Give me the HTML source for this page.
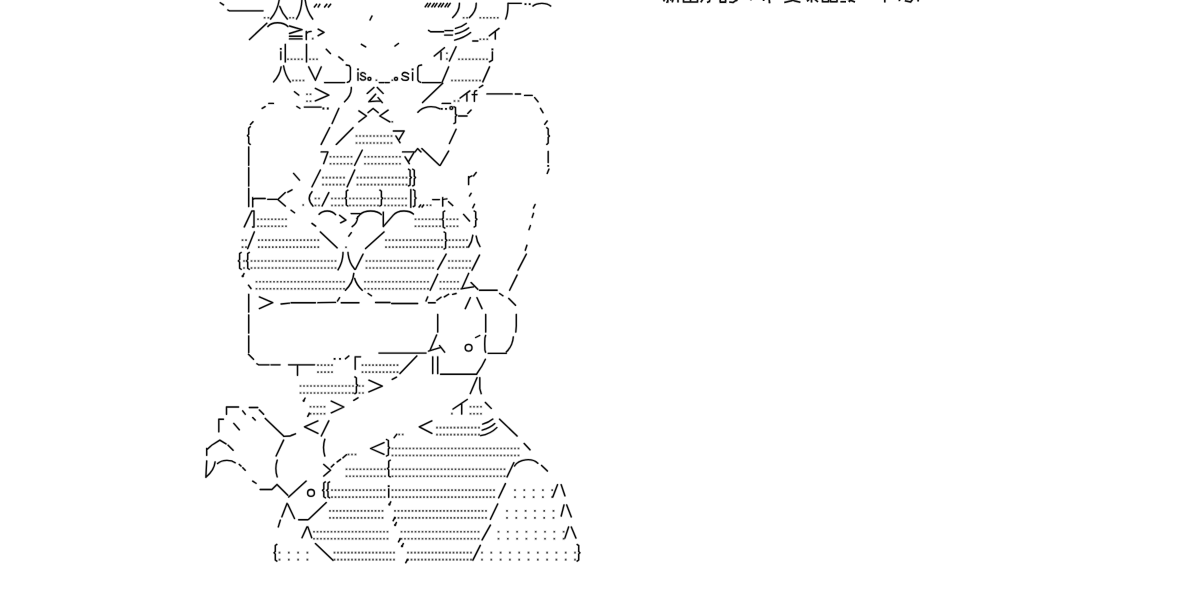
<!DOCTYPE html>
<html><head><meta charset="utf-8"><title>AA</title>
<style>
html,body{margin:0;padding:0;background:#fff;font-family:"Liberation Sans",sans-serif;}
body{width:1202px;height:598px;overflow:hidden;}
svg{display:block;}
</style></head><body>
<svg width="1202" height="598" viewBox="0 0 1202 598">
<g fill="none" stroke-linecap="round" stroke-linejoin="round">
<path d="M220.3 2.7L223.5 4.9 M227.8 10.0L229.5 10.8L263.0 10.8 M279.2 0.0 Q277.5 11.0 270.6 19.0 M279.8 6.5 Q282.0 13.0 287.3 19.0 M301.9 0.0 Q301.5 11.0 296.5 19.0 M305.2 0.0 Q306.5 11.0 312.7 19.0 M316.5 4.3L314.4 7.0 M319.8 4.3L318.2 7.0 M326.8 4.3L324.6 7.0 M330.6 4.3L328.4 7.0 M372.0 16.0L370.0 20.0 M427.6 3.4L425.2 6.8 M430.4 3.4L428.0 6.8 M434.2 3.4L431.8 6.8 M437.0 3.4L434.6 6.8 M440.8 3.4L438.4 6.8 M443.6 3.4L441.2 6.8 M447.4 3.4L445.0 6.8 M450.2 3.4L447.8 6.8 M459.4 3.3 Q459.8 11.0 452.7 17.6 M476.2 3.3 Q476.6 11.0 469.5 17.6 M508.0 3.3 Q508.2 13.0 505.7 19.0 M508.0 3.3L521.3 3.3 M533.0 6.0 C537.0 2.4 547.0 2.4 550.6 6.0 M266.8 23.3L249.5 39.5 M267.9 26.5 C272.0 21.5 283.0 21.5 287.9 26.5 M289.5 26.0L302.0 29.7L289.5 33.5 M289.5 36.2L302.0 36.2 M289.5 38.9L302.0 38.9 M306.3 31.4L306.3 39.5 M306.3 33.8 Q307.5 31.5 311.1 31.4 M318.2 29.2L324.0 32.4L318.2 35.7 M428.6 30.4L430.6 31.7L443.6 31.7 M445.0 30.6L452.8 30.6 M444.7 35.1L452.4 35.1 M455.5 28.4 Q462.0 26.8 466.2 23.4 M455.5 33.9 Q463.5 32.0 468.6 28.0 M454.7 40.1 Q464.5 37.8 470.6 32.6 M472.8 41.0L477.8 41.0 M499.0 28.4L489.4 35.8 M495.3 31.6L495.3 39.0 M280.8 51.8L280.8 59.5 M285.3 44.3L285.3 61.9 M306.5 44.3L306.5 61.9 M326.3 49.3L330.4 53.5 M338.8 56.9L343.0 60.2 M361.4 44.3L365.6 46.8 M398.4 43.5L395.0 46.0 M444.4 47.7L434.3 56.0 M441.0 51.8L441.0 59.5 M449.4 61.0L456.1 46.8 M492.4 52.0L492.4 60.2L489.5 61.9 M281.1 66.9 Q280.0 75.0 273.6 81.9 M283.6 66.0 Q285.0 75.0 290.3 81.9 M308.7 66.9L315.4 80.3L321.2 66.9 M324.6 82.6L344.6 82.6 M346.3 65.0L349.3 65.6L350.4 67.5L350.4 79.5L349.3 81.5L347.3 82.3 M358.0 72.7L358.0 80.3 M365.4 74.0 C364.0 71.9 360.6 72.1 360.8 74.6 M360.8 74.6 C361.0 76.8 365.8 76.0 365.6 78.4 M365.6 78.4 C365.2 80.8 361.4 80.6 360.4 78.6 M379.3 82.6L383.9 82.6 M385.2 82.6L389.3 82.6 M408.5 74.0 C406.5 71.8 402.0 72.0 402.3 74.8 M402.3 74.8 C402.5 77.0 408.8 76.0 408.5 78.6 M408.5 78.6 C408.0 81.0 403.0 80.8 401.8 78.8 M412.6 72.7L412.6 80.3 M421.5 65.0L418.8 65.6L417.8 67.5L417.8 79.8L418.8 81.5L420.7 82.3 M422.4 82.6L440.5 82.6 M441.9 82.8L448.6 66.9 M482.8 81.9L489.5 66.9 M294.5 91.7L298.7 95.1 M315.4 88.4L328.8 95.1L315.4 100.9 M351.3 87.5 Q351.8 95.0 344.6 101.7 M373.9 87.5L367.2 93.4 M377.3 87.5L383.1 93.4 M375.6 94.2L368.9 101.7L380.6 100.9 M378.1 97.6L382.3 102.6 M442.7 83.3L422.6 102.6 M482.7 85.4L479.4 87.5 M469.8 90.9L460.2 98.0 M466.9 93.8L466.9 101.0 M476.6 90.6L475.0 91.0L474.4 92.4L474.4 101.3 M472.2 94.6L477.0 94.6 M487.0 93.9L512.1 93.9 M515.4 94.0L520.5 94.0 M524.6 95.4L532.2 95.4 M534.7 97.6L538.0 101.7 M262.2 108.4L265.1 106.7 M268.8 103.4L273.4 103.4 M296.9 106.5L299.8 108.3 M304.4 107.1L321.1 107.1 M332.1 123.5L338.8 108.4 M358.9 110.9L366.4 116.0L358.9 121.8 M368.1 112.6L373.1 108.4L378.1 112.6 M388.1 110.1L379.8 116.0L389.8 121.8 M417.9 112.2 C423.0 106.5 432.0 105.0 440.1 108.8 M442.2 103.4L450.5 103.4 M454.0 106.8L455.5 107.5L455.5 114.0L456.8 115.2L455.5 116.4L455.5 122.6L454.0 123.5 M458.6 116.0L467.0 116.0 M471.1 110.1L467.8 113.4 M540.5 108.4L543.0 112.6 M547.2 121.0L544.7 124.3 M253.0 121.8L250.5 124.5 M250.2 126.8L248.7 128.3L248.7 134.2L247.5 135.6L248.7 137.0L248.7 143.0L250.2 144.4 M321.2 144.4L329.6 127.7 M336.3 144.4L353.0 127.7 M393.4 131.0L404.2 131.0L399.2 139.4 M395.9 136.0L400.0 142.7 M449.4 143.5L456.1 129.3 M546.8 127.7L548.2 129.0L548.2 134.6L549.4 136.0L548.2 137.4L548.2 143.0L546.8 144.4 M248.7 147.0L248.7 165.3 M321.2 151.9L327.9 151.9L323.7 163.6 M354.7 165.3L362.2 150.2 M402.6 151.9L414.3 151.9L408.4 161.9 M405.1 156.9L409.3 163.6 M415.1 151.9L417.6 148.6L421.0 151.9 M421.8 148.6L439.4 165.3 M440.2 165.3L448.6 151.1 M548.2 151.5L548.2 162.5 M548.9 169.2L547.2 173.4 M248.7 167.7L248.7 186.0 M293.6 173.4L299.5 180.1 M312.0 186.8L320.4 170.0 M347.2 186.8L354.7 170.0 M408.6 169.2L410.1 170.2L410.1 176.2L411.3 177.5L410.1 178.8L410.1 185.0L408.6 185.9 M412.8 169.2L414.3 170.2L414.3 176.2L415.5 177.5L414.3 178.8L414.3 185.0L412.8 185.9 M468.6 176.7L468.6 184.6 M468.6 178.6 Q469.5 176.5 472.0 175.9 M476.2 172.5L473.6 175.9 M248.7 188.5L248.7 206.5 M252.7 197.6L252.7 206.8 M252.7 199.8L254.5 198.5L265.2 198.5 M267.7 199.3L276.9 199.3 M285.3 192.6L277.8 199.6L285.3 206.0 M292.0 189.8L287.8 192.1 M312.0 191.8 Q306.0 198.8 312.9 206.0 M322.1 206.0L328.8 192.6 M347.8 190.1L346.3 191.2L346.3 197.0L345.1 198.3L346.3 199.6L346.3 205.0L347.8 206.0 M379.9 190.1L381.4 191.2L381.4 197.0L382.6 198.3L381.4 199.6L381.4 205.0L379.9 206.0 M410.8 189.6L410.8 207.2 M413.4 189.8L414.9 190.8L414.9 196.8L416.1 198.1L414.9 199.4L414.9 205.6L413.4 206.6 M419.1 207.0L420.6 205.0 M422.1 207.0L423.6 205.0 M432.7 199.6L439.4 199.6 M442.7 197.6L442.7 206.0 M442.7 200.0 Q443.5 198.8 446.9 198.8 M448.6 201.8L452.7 205.5 M471.1 193.4L469.5 196.0 M474.5 204.3L472.8 207.7 M535.1 204.5L533.5 208.0 M244.3 226.9L251.8 211.0 M252.6 211.0L254.0 211.0L254.0 227.0L252.6 227.0 M291.1 210.2L294.5 212.7 M312.0 223.4L315.6 226.1 M319.1 214.3 C323.0 209.8 331.5 209.8 335.6 214.6 M339.6 215.3L345.9 220.1L340.6 222.8 M351.2 213.6L360.7 213.6L356.9 218.4 M357.7 216.8 C357.5 221.0 355.5 224.5 352.2 226.6 M360.4 214.3 C364.5 209.8 377.0 209.8 381.3 214.6 M383.3 212.1L383.3 226.6L393.3 215.1 M393.3 215.1 C398.0 209.8 409.0 209.8 413.4 214.1 M444.7 211.0L443.2 212.0L443.2 218.0L442.0 219.3L443.2 220.6L443.2 227.0L444.7 228.0 M463.6 214.4L469.5 221.0 M474.2 211.0L475.7 212.0L475.7 218.0L476.9 219.3L475.7 220.6L475.7 226.0L474.2 227.0 M533.5 213.4L532.2 217.4 M530.4 225.6L529.0 229.6 M247.7 248.6L254.3 231.9 M320.4 231.9L337.1 247.8 M351.3 232.7L348.8 236.1 M365.6 248.6L384.0 231.9 M444.1 232.0L445.6 233.0L445.6 239.0L446.8 240.3L445.6 241.6L445.6 248.0L444.1 249.0 M472.8 235.3 Q472.0 242.0 468.6 247.0 M476.2 236.1 Q477.0 242.0 480.0 246.5 M526.9 245.3L525.3 250.2 M241.1 252.5L239.6 253.6L239.6 259.6L238.4 260.9L239.6 262.2L239.6 268.3L241.1 269.3 M249.2 252.5L247.7 253.6L247.7 259.6L246.5 260.9L247.7 262.2L247.7 268.3L249.2 269.3 M343.0 252.5 Q343.0 262.0 338.0 269.8 M348.0 252.5 Q348.5 262.0 354.7 269.3 M355.5 269.3L363.0 254.2 M437.7 269.3L446.1 254.2 M472.0 270.1L479.5 255.1 M518.0 270.1L526.3 254.2 M248.5 285.2L251.0 288.5 M353.8 273.4 Q353.0 283.0 345.5 290.2 M354.7 278.5 Q356.5 285.0 362.2 290.2 M430.2 290.2L437.7 274.3 M468.6 273.4L461.9 288.5 M461.1 288.8L473.6 286.8 M471.1 282.6L477.8 289.3 M479.5 290.2L497.1 290.2 M509.6 290.2L517.1 275.1 M248.7 294.3L248.7 312.0 M259.4 296.9L272.7 302.7L259.4 308.6 M281.1 304.0L289.5 303.2 M291.1 302.7L315.4 302.7 M317.9 302.7L335.5 302.4 M339.6 297.7L337.5 301.0 M341.3 302.7L358.9 302.7 M368.1 293.5L371.4 295.7 M375.6 302.5L390.0 302.5 M391.7 303.5L417.6 303.5 M427.7 296.9L426.0 301.0 M428.5 302.7L435.2 302.7 M436.9 300.2L441.0 297.2 M444.4 296.9L448.6 294.3 M452.7 294.3L456.1 293.5 M470.3 297.7L465.3 308.6 M477.0 297.7L482.0 308.6 M499.6 293.5L502.9 295.7 M508.8 298.5L515.5 305.2 M248.7 315.0L248.7 333.0 M437.7 314.5L437.7 332.0 M485.7 314.5L485.7 332.0 M516.3 314.5L516.3 326.0L515.8 332.0 M248.7 336.0L248.7 352.5 M379.0 353.1L426.0 353.1 M436.6 335.0L430.0 350.6 M428.5 351.1L440.1 347.6 M439.6 345.6L444.6 352.1 M479.7 335.5L475.7 337.5 M485.6 335.5L484.9 338.0L484.7 344.0L484.9 350.0L485.6 352.2 M488.2 353.3L506.3 353.3 M513.3 337.0 C512.8 343.0 510.5 348.0 506.3 352.1 M248.5 354.3L253.5 359.3 M256.9 363.8L258.5 364.8L269.0 364.8 M271.0 364.8L280.0 364.8 M288.6 364.8L314.5 364.8 M297.5 364.8L297.5 375.2 M348.8 356.0L345.5 358.8 M355.2 369.3L355.2 356.8L360.5 356.8 M416.8 356.0L400.0 373.5 M432.7 356.8L432.7 373.5 M437.7 356.8L437.7 373.5 M440.6 374.2L476.7 374.2 M477.0 373.5 Q482.5 366.0 485.4 359.3 M354.9 376.9L356.4 378.0L356.4 384.0L357.6 385.3L356.4 386.6L356.4 392.6L354.9 393.6 M368.9 380.2L382.3 386.1L368.9 391.9 M396.5 377.2L392.3 379.4 M477.0 377.7L470.3 393.6 M479.8 377.7L479.8 388.6L481.2 393.6 M331.3 401.1L343.8 407.0L331.3 412.8 M358.0 397.8L353.8 400.3 M226.5 414.2L226.5 407.0L238.5 407.0 M242.7 410.9L245.2 414.2 M249.4 407.5L257.7 407.5 M259.4 410.0L263.6 414.2 M467.2 399.5L453.1 409.0 M461.7 403.5L461.7 414.1 M485.4 402.5L491.2 408.4 M218.8 431.8L218.8 419.2L223.4 419.2 M233.8 423.4L239.3 429.8 M252.7 417.6L255.2 420.1 M265.3 418.4L283.6 436.0 M283.6 436.3L290.3 436.0 M291.2 435.5L295.4 433.8 M317.9 420.9L304.5 426.8L317.9 433.4 M321.3 436.0L328.8 420.9 M431.8 420.9L419.3 426.8L431.8 433.4 M482.7 424.1 Q488.8 422.6 492.8 419.1 M482.2 430.1 Q490.0 428.2 494.8 423.6 M480.7 435.6 Q490.3 434.2 496.8 427.6 M499.6 419.2L517.1 436.0 M396.7 434.3L394.2 437.6 M206.7 448.5L206.7 455.2 M206.7 449.8L210.9 446.0 M211.7 445.2L219.8 440.1L226.0 443.8 M228.1 445.2L233.1 450.2 M276.1 456.0L283.6 440.1 M324.8 439.3 C323.0 445.0 323.0 450.0 324.8 456.0 M346.4 454.8L343.0 457.7 M340.5 459.4L337.2 461.9 M333.8 464.4L331.3 466.9 M384.0 442.6L370.6 448.5L384.0 454.3 M386.5 439.5L388.4 440.5L388.4 446.5L389.6 447.8L388.4 449.0L388.4 455.0L386.5 456.0 M524.2 443.5L530.0 449.8 M206.7 461.0L205.9 476.9 M215.1 461.9 C214.5 468.0 211.0 473.0 205.9 477.3 M217.6 463.5 C222.0 459.5 231.0 459.5 235.2 462.7 M239.3 464.4L241.0 466.1 M242.8 467.8L245.2 470.2 M277.2 460.2 C275.3 466.0 275.3 471.0 277.2 476.9 M323.8 464.4L330.5 470.2L323.8 476.1 M390.2 460.2L388.7 461.3L388.7 467.3L387.5 468.6L388.7 469.9L388.7 476.0L390.2 476.9 M507.1 476.9L513.8 462.7 M514.5 466.0 C519.0 458.8 532.0 457.6 537.8 463.2 M541.6 465.4L547.4 471.0 M252.7 481.1L256.0 483.3 M260.2 489.5L271.9 489.5 M271.9 489.5L277.0 484.5L287.8 495.3 M288.7 497.0L306.2 481.1 M325.3 481.9L323.8 483.0L323.8 489.0L322.6 490.3L323.8 491.6L323.8 496.8L325.3 497.8 M329.5 481.9L328.0 483.0L328.0 489.0L326.8 490.3L328.0 491.6L328.0 496.8L329.5 497.8 M388.7 488.8L388.7 497.2 M498.7 497.8L505.4 483.6 M557.5 484.7L552.9 496.7 M561.2 484.7L564.9 495.8 M287.0 503.4L281.9 516.8 M287.8 504.3L294.5 518.5 M298.7 519.7L307.9 519.7 M308.7 519.3L326.3 502.6 M490.4 519.3L497.7 504.0 M564.0 505.0L561.2 516.0 M566.7 505.0L571.3 516.9 M280.3 520.2L278.3 526.9 M307.0 526.9L302.0 537.7 M307.9 526.9L311.7 537.7 M482.1 539.9L490.4 525.2 M568.6 527.0L564.9 538.1 M571.3 527.0L575.9 538.1 M276.8 544.4L275.3 545.5L275.3 551.5L274.1 552.8L275.3 554.1L275.3 560.0L276.8 561.1 M315.4 543.6L333.0 560.3 M472.9 560.1L480.3 545.4 M577.2 544.5L578.7 545.6L578.7 551.5L579.9 552.8L578.7 554.1L578.7 560.0L577.2 561.1 M389.9 503.5L390.7 501.9 M395.6 524.1L396.4 522.5 M402.5 545.2L403.3 543.6 M304.2 399.8L305.0 398.2 M243.2 275.2L244.0 273.6 M394.6 518.2L393.2 520.7 M399.9 539.3L398.5 541.8 M407.2 560.2L405.8 562.7 M309.1 413.8L307.7 416.3" stroke="#000" stroke-opacity="0.2" stroke-width="2.5"/>
<path d="M220.3 2.7L223.5 4.9 M227.8 10.0L229.5 10.8L263.0 10.8 M279.2 0.0 Q277.5 11.0 270.6 19.0 M279.8 6.5 Q282.0 13.0 287.3 19.0 M301.9 0.0 Q301.5 11.0 296.5 19.0 M305.2 0.0 Q306.5 11.0 312.7 19.0 M316.5 4.3L314.4 7.0 M319.8 4.3L318.2 7.0 M326.8 4.3L324.6 7.0 M330.6 4.3L328.4 7.0 M372.0 16.0L370.0 20.0 M427.6 3.4L425.2 6.8 M430.4 3.4L428.0 6.8 M434.2 3.4L431.8 6.8 M437.0 3.4L434.6 6.8 M440.8 3.4L438.4 6.8 M443.6 3.4L441.2 6.8 M447.4 3.4L445.0 6.8 M450.2 3.4L447.8 6.8 M459.4 3.3 Q459.8 11.0 452.7 17.6 M476.2 3.3 Q476.6 11.0 469.5 17.6 M508.0 3.3 Q508.2 13.0 505.7 19.0 M508.0 3.3L521.3 3.3 M533.0 6.0 C537.0 2.4 547.0 2.4 550.6 6.0 M266.8 23.3L249.5 39.5 M267.9 26.5 C272.0 21.5 283.0 21.5 287.9 26.5 M289.5 26.0L302.0 29.7L289.5 33.5 M289.5 36.2L302.0 36.2 M289.5 38.9L302.0 38.9 M306.3 31.4L306.3 39.5 M306.3 33.8 Q307.5 31.5 311.1 31.4 M318.2 29.2L324.0 32.4L318.2 35.7 M428.6 30.4L430.6 31.7L443.6 31.7 M445.0 30.6L452.8 30.6 M444.7 35.1L452.4 35.1 M455.5 28.4 Q462.0 26.8 466.2 23.4 M455.5 33.9 Q463.5 32.0 468.6 28.0 M454.7 40.1 Q464.5 37.8 470.6 32.6 M472.8 41.0L477.8 41.0 M499.0 28.4L489.4 35.8 M495.3 31.6L495.3 39.0 M280.8 51.8L280.8 59.5 M285.3 44.3L285.3 61.9 M306.5 44.3L306.5 61.9 M326.3 49.3L330.4 53.5 M338.8 56.9L343.0 60.2 M361.4 44.3L365.6 46.8 M398.4 43.5L395.0 46.0 M444.4 47.7L434.3 56.0 M441.0 51.8L441.0 59.5 M449.4 61.0L456.1 46.8 M492.4 52.0L492.4 60.2L489.5 61.9 M281.1 66.9 Q280.0 75.0 273.6 81.9 M283.6 66.0 Q285.0 75.0 290.3 81.9 M308.7 66.9L315.4 80.3L321.2 66.9 M324.6 82.6L344.6 82.6 M346.3 65.0L349.3 65.6L350.4 67.5L350.4 79.5L349.3 81.5L347.3 82.3 M358.0 72.7L358.0 80.3 M365.4 74.0 C364.0 71.9 360.6 72.1 360.8 74.6 M360.8 74.6 C361.0 76.8 365.8 76.0 365.6 78.4 M365.6 78.4 C365.2 80.8 361.4 80.6 360.4 78.6 M379.3 82.6L383.9 82.6 M385.2 82.6L389.3 82.6 M408.5 74.0 C406.5 71.8 402.0 72.0 402.3 74.8 M402.3 74.8 C402.5 77.0 408.8 76.0 408.5 78.6 M408.5 78.6 C408.0 81.0 403.0 80.8 401.8 78.8 M412.6 72.7L412.6 80.3 M421.5 65.0L418.8 65.6L417.8 67.5L417.8 79.8L418.8 81.5L420.7 82.3 M422.4 82.6L440.5 82.6 M441.9 82.8L448.6 66.9 M482.8 81.9L489.5 66.9 M294.5 91.7L298.7 95.1 M315.4 88.4L328.8 95.1L315.4 100.9 M351.3 87.5 Q351.8 95.0 344.6 101.7 M373.9 87.5L367.2 93.4 M377.3 87.5L383.1 93.4 M375.6 94.2L368.9 101.7L380.6 100.9 M378.1 97.6L382.3 102.6 M442.7 83.3L422.6 102.6 M482.7 85.4L479.4 87.5 M469.8 90.9L460.2 98.0 M466.9 93.8L466.9 101.0 M476.6 90.6L475.0 91.0L474.4 92.4L474.4 101.3 M472.2 94.6L477.0 94.6 M487.0 93.9L512.1 93.9 M515.4 94.0L520.5 94.0 M524.6 95.4L532.2 95.4 M534.7 97.6L538.0 101.7 M262.2 108.4L265.1 106.7 M268.8 103.4L273.4 103.4 M296.9 106.5L299.8 108.3 M304.4 107.1L321.1 107.1 M332.1 123.5L338.8 108.4 M358.9 110.9L366.4 116.0L358.9 121.8 M368.1 112.6L373.1 108.4L378.1 112.6 M388.1 110.1L379.8 116.0L389.8 121.8 M417.9 112.2 C423.0 106.5 432.0 105.0 440.1 108.8 M442.2 103.4L450.5 103.4 M454.0 106.8L455.5 107.5L455.5 114.0L456.8 115.2L455.5 116.4L455.5 122.6L454.0 123.5 M458.6 116.0L467.0 116.0 M471.1 110.1L467.8 113.4 M540.5 108.4L543.0 112.6 M547.2 121.0L544.7 124.3 M253.0 121.8L250.5 124.5 M250.2 126.8L248.7 128.3L248.7 134.2L247.5 135.6L248.7 137.0L248.7 143.0L250.2 144.4 M321.2 144.4L329.6 127.7 M336.3 144.4L353.0 127.7 M393.4 131.0L404.2 131.0L399.2 139.4 M395.9 136.0L400.0 142.7 M449.4 143.5L456.1 129.3 M546.8 127.7L548.2 129.0L548.2 134.6L549.4 136.0L548.2 137.4L548.2 143.0L546.8 144.4 M248.7 147.0L248.7 165.3 M321.2 151.9L327.9 151.9L323.7 163.6 M354.7 165.3L362.2 150.2 M402.6 151.9L414.3 151.9L408.4 161.9 M405.1 156.9L409.3 163.6 M415.1 151.9L417.6 148.6L421.0 151.9 M421.8 148.6L439.4 165.3 M440.2 165.3L448.6 151.1 M548.2 151.5L548.2 162.5 M548.9 169.2L547.2 173.4 M248.7 167.7L248.7 186.0 M293.6 173.4L299.5 180.1 M312.0 186.8L320.4 170.0 M347.2 186.8L354.7 170.0 M408.6 169.2L410.1 170.2L410.1 176.2L411.3 177.5L410.1 178.8L410.1 185.0L408.6 185.9 M412.8 169.2L414.3 170.2L414.3 176.2L415.5 177.5L414.3 178.8L414.3 185.0L412.8 185.9 M468.6 176.7L468.6 184.6 M468.6 178.6 Q469.5 176.5 472.0 175.9 M476.2 172.5L473.6 175.9 M248.7 188.5L248.7 206.5 M252.7 197.6L252.7 206.8 M252.7 199.8L254.5 198.5L265.2 198.5 M267.7 199.3L276.9 199.3 M285.3 192.6L277.8 199.6L285.3 206.0 M292.0 189.8L287.8 192.1 M312.0 191.8 Q306.0 198.8 312.9 206.0 M322.1 206.0L328.8 192.6 M347.8 190.1L346.3 191.2L346.3 197.0L345.1 198.3L346.3 199.6L346.3 205.0L347.8 206.0 M379.9 190.1L381.4 191.2L381.4 197.0L382.6 198.3L381.4 199.6L381.4 205.0L379.9 206.0 M410.8 189.6L410.8 207.2 M413.4 189.8L414.9 190.8L414.9 196.8L416.1 198.1L414.9 199.4L414.9 205.6L413.4 206.6 M419.1 207.0L420.6 205.0 M422.1 207.0L423.6 205.0 M432.7 199.6L439.4 199.6 M442.7 197.6L442.7 206.0 M442.7 200.0 Q443.5 198.8 446.9 198.8 M448.6 201.8L452.7 205.5 M471.1 193.4L469.5 196.0 M474.5 204.3L472.8 207.7 M535.1 204.5L533.5 208.0 M244.3 226.9L251.8 211.0 M252.6 211.0L254.0 211.0L254.0 227.0L252.6 227.0 M291.1 210.2L294.5 212.7 M312.0 223.4L315.6 226.1 M319.1 214.3 C323.0 209.8 331.5 209.8 335.6 214.6 M339.6 215.3L345.9 220.1L340.6 222.8 M351.2 213.6L360.7 213.6L356.9 218.4 M357.7 216.8 C357.5 221.0 355.5 224.5 352.2 226.6 M360.4 214.3 C364.5 209.8 377.0 209.8 381.3 214.6 M383.3 212.1L383.3 226.6L393.3 215.1 M393.3 215.1 C398.0 209.8 409.0 209.8 413.4 214.1 M444.7 211.0L443.2 212.0L443.2 218.0L442.0 219.3L443.2 220.6L443.2 227.0L444.7 228.0 M463.6 214.4L469.5 221.0 M474.2 211.0L475.7 212.0L475.7 218.0L476.9 219.3L475.7 220.6L475.7 226.0L474.2 227.0 M533.5 213.4L532.2 217.4 M530.4 225.6L529.0 229.6 M247.7 248.6L254.3 231.9 M320.4 231.9L337.1 247.8 M351.3 232.7L348.8 236.1 M365.6 248.6L384.0 231.9 M444.1 232.0L445.6 233.0L445.6 239.0L446.8 240.3L445.6 241.6L445.6 248.0L444.1 249.0 M472.8 235.3 Q472.0 242.0 468.6 247.0 M476.2 236.1 Q477.0 242.0 480.0 246.5 M526.9 245.3L525.3 250.2 M241.1 252.5L239.6 253.6L239.6 259.6L238.4 260.9L239.6 262.2L239.6 268.3L241.1 269.3 M249.2 252.5L247.7 253.6L247.7 259.6L246.5 260.9L247.7 262.2L247.7 268.3L249.2 269.3 M343.0 252.5 Q343.0 262.0 338.0 269.8 M348.0 252.5 Q348.5 262.0 354.7 269.3 M355.5 269.3L363.0 254.2 M437.7 269.3L446.1 254.2 M472.0 270.1L479.5 255.1 M518.0 270.1L526.3 254.2 M248.5 285.2L251.0 288.5 M353.8 273.4 Q353.0 283.0 345.5 290.2 M354.7 278.5 Q356.5 285.0 362.2 290.2 M430.2 290.2L437.7 274.3 M468.6 273.4L461.9 288.5 M461.1 288.8L473.6 286.8 M471.1 282.6L477.8 289.3 M479.5 290.2L497.1 290.2 M509.6 290.2L517.1 275.1 M248.7 294.3L248.7 312.0 M259.4 296.9L272.7 302.7L259.4 308.6 M281.1 304.0L289.5 303.2 M291.1 302.7L315.4 302.7 M317.9 302.7L335.5 302.4 M339.6 297.7L337.5 301.0 M341.3 302.7L358.9 302.7 M368.1 293.5L371.4 295.7 M375.6 302.5L390.0 302.5 M391.7 303.5L417.6 303.5 M427.7 296.9L426.0 301.0 M428.5 302.7L435.2 302.7 M436.9 300.2L441.0 297.2 M444.4 296.9L448.6 294.3 M452.7 294.3L456.1 293.5 M470.3 297.7L465.3 308.6 M477.0 297.7L482.0 308.6 M499.6 293.5L502.9 295.7 M508.8 298.5L515.5 305.2 M248.7 315.0L248.7 333.0 M437.7 314.5L437.7 332.0 M485.7 314.5L485.7 332.0 M516.3 314.5L516.3 326.0L515.8 332.0 M248.7 336.0L248.7 352.5 M379.0 353.1L426.0 353.1 M436.6 335.0L430.0 350.6 M428.5 351.1L440.1 347.6 M439.6 345.6L444.6 352.1 M479.7 335.5L475.7 337.5 M485.6 335.5L484.9 338.0L484.7 344.0L484.9 350.0L485.6 352.2 M488.2 353.3L506.3 353.3 M513.3 337.0 C512.8 343.0 510.5 348.0 506.3 352.1 M248.5 354.3L253.5 359.3 M256.9 363.8L258.5 364.8L269.0 364.8 M271.0 364.8L280.0 364.8 M288.6 364.8L314.5 364.8 M297.5 364.8L297.5 375.2 M348.8 356.0L345.5 358.8 M355.2 369.3L355.2 356.8L360.5 356.8 M416.8 356.0L400.0 373.5 M432.7 356.8L432.7 373.5 M437.7 356.8L437.7 373.5 M440.6 374.2L476.7 374.2 M477.0 373.5 Q482.5 366.0 485.4 359.3 M354.9 376.9L356.4 378.0L356.4 384.0L357.6 385.3L356.4 386.6L356.4 392.6L354.9 393.6 M368.9 380.2L382.3 386.1L368.9 391.9 M396.5 377.2L392.3 379.4 M477.0 377.7L470.3 393.6 M479.8 377.7L479.8 388.6L481.2 393.6 M331.3 401.1L343.8 407.0L331.3 412.8 M358.0 397.8L353.8 400.3 M226.5 414.2L226.5 407.0L238.5 407.0 M242.7 410.9L245.2 414.2 M249.4 407.5L257.7 407.5 M259.4 410.0L263.6 414.2 M467.2 399.5L453.1 409.0 M461.7 403.5L461.7 414.1 M485.4 402.5L491.2 408.4 M218.8 431.8L218.8 419.2L223.4 419.2 M233.8 423.4L239.3 429.8 M252.7 417.6L255.2 420.1 M265.3 418.4L283.6 436.0 M283.6 436.3L290.3 436.0 M291.2 435.5L295.4 433.8 M317.9 420.9L304.5 426.8L317.9 433.4 M321.3 436.0L328.8 420.9 M431.8 420.9L419.3 426.8L431.8 433.4 M482.7 424.1 Q488.8 422.6 492.8 419.1 M482.2 430.1 Q490.0 428.2 494.8 423.6 M480.7 435.6 Q490.3 434.2 496.8 427.6 M499.6 419.2L517.1 436.0 M396.7 434.3L394.2 437.6 M206.7 448.5L206.7 455.2 M206.7 449.8L210.9 446.0 M211.7 445.2L219.8 440.1L226.0 443.8 M228.1 445.2L233.1 450.2 M276.1 456.0L283.6 440.1 M324.8 439.3 C323.0 445.0 323.0 450.0 324.8 456.0 M346.4 454.8L343.0 457.7 M340.5 459.4L337.2 461.9 M333.8 464.4L331.3 466.9 M384.0 442.6L370.6 448.5L384.0 454.3 M386.5 439.5L388.4 440.5L388.4 446.5L389.6 447.8L388.4 449.0L388.4 455.0L386.5 456.0 M524.2 443.5L530.0 449.8 M206.7 461.0L205.9 476.9 M215.1 461.9 C214.5 468.0 211.0 473.0 205.9 477.3 M217.6 463.5 C222.0 459.5 231.0 459.5 235.2 462.7 M239.3 464.4L241.0 466.1 M242.8 467.8L245.2 470.2 M277.2 460.2 C275.3 466.0 275.3 471.0 277.2 476.9 M323.8 464.4L330.5 470.2L323.8 476.1 M390.2 460.2L388.7 461.3L388.7 467.3L387.5 468.6L388.7 469.9L388.7 476.0L390.2 476.9 M507.1 476.9L513.8 462.7 M514.5 466.0 C519.0 458.8 532.0 457.6 537.8 463.2 M541.6 465.4L547.4 471.0 M252.7 481.1L256.0 483.3 M260.2 489.5L271.9 489.5 M271.9 489.5L277.0 484.5L287.8 495.3 M288.7 497.0L306.2 481.1 M325.3 481.9L323.8 483.0L323.8 489.0L322.6 490.3L323.8 491.6L323.8 496.8L325.3 497.8 M329.5 481.9L328.0 483.0L328.0 489.0L326.8 490.3L328.0 491.6L328.0 496.8L329.5 497.8 M388.7 488.8L388.7 497.2 M498.7 497.8L505.4 483.6 M557.5 484.7L552.9 496.7 M561.2 484.7L564.9 495.8 M287.0 503.4L281.9 516.8 M287.8 504.3L294.5 518.5 M298.7 519.7L307.9 519.7 M308.7 519.3L326.3 502.6 M490.4 519.3L497.7 504.0 M564.0 505.0L561.2 516.0 M566.7 505.0L571.3 516.9 M280.3 520.2L278.3 526.9 M307.0 526.9L302.0 537.7 M307.9 526.9L311.7 537.7 M482.1 539.9L490.4 525.2 M568.6 527.0L564.9 538.1 M571.3 527.0L575.9 538.1 M276.8 544.4L275.3 545.5L275.3 551.5L274.1 552.8L275.3 554.1L275.3 560.0L276.8 561.1 M315.4 543.6L333.0 560.3 M472.9 560.1L480.3 545.4 M577.2 544.5L578.7 545.6L578.7 551.5L579.9 552.8L578.7 554.1L578.7 560.0L577.2 561.1 M389.9 503.5L390.7 501.9 M395.6 524.1L396.4 522.5 M402.5 545.2L403.3 543.6 M304.2 399.8L305.0 398.2 M243.2 275.2L244.0 273.6 M394.6 518.2L393.2 520.7 M399.9 539.3L398.5 541.8 M407.2 560.2L405.8 562.7 M309.1 413.8L307.7 416.3" stroke="#0c0c0c" stroke-width="1.35"/>
<circle cx="369.4" cy="78.8" r="1.5" stroke="#000" stroke-opacity="0.2" stroke-width="2.5"/>
<circle cx="369.4" cy="78.8" r="1.5" stroke="#0c0c0c" stroke-width="1.35"/>
<circle cx="396.0" cy="78.8" r="1.5" stroke="#000" stroke-opacity="0.2" stroke-width="2.5"/>
<circle cx="396.0" cy="78.8" r="1.5" stroke="#0c0c0c" stroke-width="1.35"/>
<circle cx="451.3" cy="108.0" r="1.4" stroke="#000" stroke-opacity="0.2" stroke-width="2.5"/>
<circle cx="451.3" cy="108.0" r="1.4" stroke="#0c0c0c" stroke-width="1.35"/>
<circle cx="468.6" cy="347.8" r="3.4" stroke="#000" stroke-opacity="0.2" stroke-width="2.5"/>
<circle cx="468.6" cy="347.8" r="3.4" stroke="#0c0c0c" stroke-width="1.35"/>
<circle cx="311.0" cy="492.9" r="3.4" stroke="#000" stroke-opacity="0.2" stroke-width="2.5"/>
<circle cx="311.0" cy="492.9" r="3.4" stroke="#0c0c0c" stroke-width="1.35"/>
</g>
<g transform="translate(0,-0.6)">
<path d="M665.3 -1.0L663.5 2.0 M667.8 -1.0L667.8 2.6L666.2 2.8 M670.0 -1.0L671.3 1.3 M673.4 -1.0L672.2 3.0 M678.0 -1.0L678.0 3.2 M683.5 -1.0L683.5 2.6L697.5 2.6L697.5 -1.0 M690.5 -1.0L690.5 2.6 M703.3 -1.0L700.8 3.0 M710.0 -1.0L709.4 2.2L707.0 3.0 M720.2 -1.0L720.2 2.7L725.6 2.7L725.6 -1.0 M729.2 2.6L733.2 3.0L736.3 0.8L736.6 -1.0 M735.9 -1.0L737.0 1.8 M750.6 -1.0L751.2 1.0 M763.6 -1.0L763.6 1.5 M769.0 -1.0L769.6 3.0L768.6 3.2 M784.3 3.0L791.6 1.3L795.2 -0.5 M790.0 -0.5L795.0 1.7L800.4 2.8 M807.0 2.0L809.6 -0.5 M811.5 -1.0L811.5 3.2 M814.4 -0.5L818.0 2.6 M822.5 -1.0L822.5 2.3L828.5 2.3L828.5 -1.0 M830.5 -1.0L830.5 2.3L837.0 2.3L837.0 -1.0 M840.4 2.3L846.0 2.3 M847.0 -0.5L855.0 2.6 M848.8 2.6L852.0 -0.5 M884.8 -1.0L884.8 3.0 M899.0 -1.0L899.6 1.8 M904.8 1.4L910.6 2.6L912.9 -0.5 M918.9 -1.0L917.8 2.0" fill="none" stroke="#000" stroke-opacity="0.18" stroke-width="2.7"/>
<path d="M665.3 -1.0L663.5 2.0 M667.8 -1.0L667.8 2.6L666.2 2.8 M670.0 -1.0L671.3 1.3 M673.4 -1.0L672.2 3.0 M678.0 -1.0L678.0 3.2 M683.5 -1.0L683.5 2.6L697.5 2.6L697.5 -1.0 M690.5 -1.0L690.5 2.6 M703.3 -1.0L700.8 3.0 M710.0 -1.0L709.4 2.2L707.0 3.0 M720.2 -1.0L720.2 2.7L725.6 2.7L725.6 -1.0 M729.2 2.6L733.2 3.0L736.3 0.8L736.6 -1.0 M735.9 -1.0L737.0 1.8 M750.6 -1.0L751.2 1.0 M763.6 -1.0L763.6 1.5 M769.0 -1.0L769.6 3.0L768.6 3.2 M784.3 3.0L791.6 1.3L795.2 -0.5 M790.0 -0.5L795.0 1.7L800.4 2.8 M807.0 2.0L809.6 -0.5 M811.5 -1.0L811.5 3.2 M814.4 -0.5L818.0 2.6 M822.5 -1.0L822.5 2.3L828.5 2.3L828.5 -1.0 M830.5 -1.0L830.5 2.3L837.0 2.3L837.0 -1.0 M840.4 2.3L846.0 2.3 M847.0 -0.5L855.0 2.6 M848.8 2.6L852.0 -0.5 M884.8 -1.0L884.8 3.0 M899.0 -1.0L899.6 1.8 M904.8 1.4L910.6 2.6L912.9 -0.5 M918.9 -1.0L917.8 2.0" fill="none" stroke="#111" stroke-width="1.55" stroke-linejoin="round"/>
</g>
<path d="M263.20 16.40h2.8v2.8h-2.8zM267.00 16.40h2.8v2.8h-2.8zM288.60 16.40h2.8v2.8h-2.8zM291.90 16.40h2.8v2.8h-2.8zM462.20 16.40h2.8v2.8h-2.8zM465.70 16.40h2.8v2.8h-2.8zM478.90 16.40h2.8v2.8h-2.8zM482.40 16.40h2.8v2.8h-2.8zM485.90 16.40h2.8v2.8h-2.8zM489.40 16.40h2.8v2.8h-2.8zM492.90 16.40h2.8v2.8h-2.8zM496.40 16.40h2.8v2.8h-2.8zM311.30 37.20h2.8v2.8h-2.8zM478.90 37.90h2.8v2.8h-2.8zM482.40 37.90h2.8v2.8h-2.8zM485.90 37.90h2.8v2.8h-2.8zM286.60 57.86h2.8v2.8h-2.8zM290.10 57.86h2.8v2.8h-2.8zM293.60 57.86h2.8v2.8h-2.8zM297.10 57.86h2.8v2.8h-2.8zM300.60 57.86h2.8v2.8h-2.8zM308.60 57.86h2.8v2.8h-2.8zM312.10 57.86h2.8v2.8h-2.8zM315.60 57.86h2.8v2.8h-2.8zM445.50 51.80h2.8v2.8h-2.8zM445.50 57.60h2.8v2.8h-2.8zM457.60 57.86h2.8v2.8h-2.8zM461.10 57.86h2.8v2.8h-2.8zM464.60 57.86h2.8v2.8h-2.8zM468.10 57.86h2.8v2.8h-2.8zM471.60 57.86h2.8v2.8h-2.8zM475.10 57.86h2.8v2.8h-2.8zM478.60 57.86h2.8v2.8h-2.8zM482.10 57.86h2.8v2.8h-2.8zM485.60 57.86h2.8v2.8h-2.8zM291.60 79.09h2.8v2.8h-2.8zM295.10 79.09h2.8v2.8h-2.8zM298.60 79.09h2.8v2.8h-2.8zM302.10 79.09h2.8v2.8h-2.8zM375.00 78.80h2.8v2.8h-2.8zM390.90 78.80h2.8v2.8h-2.8zM450.60 79.09h2.8v2.8h-2.8zM454.10 79.09h2.8v2.8h-2.8zM457.60 79.09h2.8v2.8h-2.8zM461.10 79.09h2.8v2.8h-2.8zM464.60 79.09h2.8v2.8h-2.8zM468.10 79.09h2.8v2.8h-2.8zM471.60 79.09h2.8v2.8h-2.8zM475.10 79.09h2.8v2.8h-2.8zM478.60 79.09h2.8v2.8h-2.8zM305.60 92.92h2.8v2.8h-2.8zM305.60 99.92h2.8v2.8h-2.8zM309.10 92.92h2.8v2.8h-2.8zM309.10 99.92h2.8v2.8h-2.8zM453.10 99.60h2.8v2.8h-2.8zM457.10 99.60h2.8v2.8h-2.8zM390.90 120.40h2.8v2.8h-2.8zM355.10 134.58h2.8v2.8h-2.8zM355.10 141.58h2.8v2.8h-2.8zM358.60 134.58h2.8v2.8h-2.8zM358.60 141.58h2.8v2.8h-2.8zM362.10 134.58h2.8v2.8h-2.8zM362.10 141.58h2.8v2.8h-2.8zM365.60 134.58h2.8v2.8h-2.8zM365.60 141.58h2.8v2.8h-2.8zM369.10 134.58h2.8v2.8h-2.8zM369.10 141.58h2.8v2.8h-2.8zM372.60 134.58h2.8v2.8h-2.8zM372.60 141.58h2.8v2.8h-2.8zM376.10 134.58h2.8v2.8h-2.8zM376.10 141.58h2.8v2.8h-2.8zM379.60 134.58h2.8v2.8h-2.8zM379.60 141.58h2.8v2.8h-2.8zM383.10 134.58h2.8v2.8h-2.8zM383.10 141.58h2.8v2.8h-2.8zM386.60 134.58h2.8v2.8h-2.8zM386.60 141.58h2.8v2.8h-2.8zM390.10 134.58h2.8v2.8h-2.8zM390.10 141.58h2.8v2.8h-2.8zM329.10 155.41h2.8v2.8h-2.8zM329.10 162.41h2.8v2.8h-2.8zM332.60 155.41h2.8v2.8h-2.8zM332.60 162.41h2.8v2.8h-2.8zM336.10 155.41h2.8v2.8h-2.8zM336.10 162.41h2.8v2.8h-2.8zM339.60 155.41h2.8v2.8h-2.8zM339.60 162.41h2.8v2.8h-2.8zM343.10 155.41h2.8v2.8h-2.8zM343.10 162.41h2.8v2.8h-2.8zM346.60 155.41h2.8v2.8h-2.8zM346.60 162.41h2.8v2.8h-2.8zM350.10 155.41h2.8v2.8h-2.8zM350.10 162.41h2.8v2.8h-2.8zM363.60 155.41h2.8v2.8h-2.8zM363.60 162.41h2.8v2.8h-2.8zM367.10 155.41h2.8v2.8h-2.8zM367.10 162.41h2.8v2.8h-2.8zM370.60 155.41h2.8v2.8h-2.8zM370.60 162.41h2.8v2.8h-2.8zM374.10 155.41h2.8v2.8h-2.8zM374.10 162.41h2.8v2.8h-2.8zM377.60 155.41h2.8v2.8h-2.8zM377.60 162.41h2.8v2.8h-2.8zM381.10 155.41h2.8v2.8h-2.8zM381.10 162.41h2.8v2.8h-2.8zM384.60 155.41h2.8v2.8h-2.8zM384.60 162.41h2.8v2.8h-2.8zM388.10 155.41h2.8v2.8h-2.8zM388.10 162.41h2.8v2.8h-2.8zM391.60 155.41h2.8v2.8h-2.8zM391.60 162.41h2.8v2.8h-2.8zM395.10 155.41h2.8v2.8h-2.8zM395.10 162.41h2.8v2.8h-2.8zM398.60 155.41h2.8v2.8h-2.8zM398.60 162.41h2.8v2.8h-2.8zM321.60 176.24h2.8v2.8h-2.8zM321.60 183.24h2.8v2.8h-2.8zM325.10 176.24h2.8v2.8h-2.8zM325.10 183.24h2.8v2.8h-2.8zM328.60 176.24h2.8v2.8h-2.8zM328.60 183.24h2.8v2.8h-2.8zM332.10 176.24h2.8v2.8h-2.8zM332.10 183.24h2.8v2.8h-2.8zM335.60 176.24h2.8v2.8h-2.8zM335.60 183.24h2.8v2.8h-2.8zM339.10 176.24h2.8v2.8h-2.8zM339.10 183.24h2.8v2.8h-2.8zM342.60 176.24h2.8v2.8h-2.8zM342.60 183.24h2.8v2.8h-2.8zM356.10 176.24h2.8v2.8h-2.8zM356.10 183.24h2.8v2.8h-2.8zM359.60 176.24h2.8v2.8h-2.8zM359.60 183.24h2.8v2.8h-2.8zM363.10 176.24h2.8v2.8h-2.8zM363.10 183.24h2.8v2.8h-2.8zM366.60 176.24h2.8v2.8h-2.8zM366.60 183.24h2.8v2.8h-2.8zM370.10 176.24h2.8v2.8h-2.8zM370.10 183.24h2.8v2.8h-2.8zM373.60 176.24h2.8v2.8h-2.8zM373.60 183.24h2.8v2.8h-2.8zM377.10 176.24h2.8v2.8h-2.8zM377.10 183.24h2.8v2.8h-2.8zM380.60 176.24h2.8v2.8h-2.8zM380.60 183.24h2.8v2.8h-2.8zM384.10 176.24h2.8v2.8h-2.8zM384.10 183.24h2.8v2.8h-2.8zM387.60 176.24h2.8v2.8h-2.8zM387.60 183.24h2.8v2.8h-2.8zM391.10 176.24h2.8v2.8h-2.8zM391.10 183.24h2.8v2.8h-2.8zM394.60 176.24h2.8v2.8h-2.8zM394.60 183.24h2.8v2.8h-2.8zM398.10 176.24h2.8v2.8h-2.8zM398.10 183.24h2.8v2.8h-2.8zM401.60 176.24h2.8v2.8h-2.8zM401.60 183.24h2.8v2.8h-2.8zM405.10 176.24h2.8v2.8h-2.8zM405.10 183.24h2.8v2.8h-2.8zM301.80 203.60h2.8v2.8h-2.8zM314.10 197.07h2.8v2.8h-2.8zM314.10 204.07h2.8v2.8h-2.8zM317.60 197.07h2.8v2.8h-2.8zM317.60 204.07h2.8v2.8h-2.8zM330.60 197.07h2.8v2.8h-2.8zM330.60 204.07h2.8v2.8h-2.8zM334.10 197.07h2.8v2.8h-2.8zM334.10 204.07h2.8v2.8h-2.8zM337.60 197.07h2.8v2.8h-2.8zM337.60 204.07h2.8v2.8h-2.8zM341.10 197.07h2.8v2.8h-2.8zM341.10 204.07h2.8v2.8h-2.8zM348.60 197.07h2.8v2.8h-2.8zM348.60 204.07h2.8v2.8h-2.8zM352.10 197.07h2.8v2.8h-2.8zM352.10 204.07h2.8v2.8h-2.8zM355.60 197.07h2.8v2.8h-2.8zM355.60 204.07h2.8v2.8h-2.8zM359.10 197.07h2.8v2.8h-2.8zM359.10 204.07h2.8v2.8h-2.8zM362.60 197.07h2.8v2.8h-2.8zM362.60 204.07h2.8v2.8h-2.8zM366.10 197.07h2.8v2.8h-2.8zM366.10 204.07h2.8v2.8h-2.8zM369.60 197.07h2.8v2.8h-2.8zM369.60 204.07h2.8v2.8h-2.8zM373.10 197.07h2.8v2.8h-2.8zM373.10 204.07h2.8v2.8h-2.8zM376.60 197.07h2.8v2.8h-2.8zM376.60 204.07h2.8v2.8h-2.8zM383.60 197.07h2.8v2.8h-2.8zM383.60 204.07h2.8v2.8h-2.8zM387.10 197.07h2.8v2.8h-2.8zM387.10 204.07h2.8v2.8h-2.8zM390.60 197.07h2.8v2.8h-2.8zM390.60 204.07h2.8v2.8h-2.8zM394.10 197.07h2.8v2.8h-2.8zM394.10 204.07h2.8v2.8h-2.8zM397.60 197.07h2.8v2.8h-2.8zM397.60 204.07h2.8v2.8h-2.8zM401.10 197.07h2.8v2.8h-2.8zM401.10 204.07h2.8v2.8h-2.8zM404.60 197.07h2.8v2.8h-2.8zM404.60 204.07h2.8v2.8h-2.8zM425.80 203.90h2.8v2.8h-2.8zM429.20 203.90h2.8v2.8h-2.8zM256.60 217.90h2.8v2.8h-2.8zM256.60 224.90h2.8v2.8h-2.8zM260.10 217.90h2.8v2.8h-2.8zM260.10 224.90h2.8v2.8h-2.8zM263.60 217.90h2.8v2.8h-2.8zM263.60 224.90h2.8v2.8h-2.8zM267.10 217.90h2.8v2.8h-2.8zM267.10 224.90h2.8v2.8h-2.8zM270.60 217.90h2.8v2.8h-2.8zM270.60 224.90h2.8v2.8h-2.8zM274.10 217.90h2.8v2.8h-2.8zM274.10 224.90h2.8v2.8h-2.8zM277.60 217.90h2.8v2.8h-2.8zM277.60 224.90h2.8v2.8h-2.8zM281.10 217.90h2.8v2.8h-2.8zM281.10 224.90h2.8v2.8h-2.8zM284.60 217.90h2.8v2.8h-2.8zM284.60 224.90h2.8v2.8h-2.8zM414.10 217.90h2.8v2.8h-2.8zM414.10 224.90h2.8v2.8h-2.8zM417.60 217.90h2.8v2.8h-2.8zM417.60 224.90h2.8v2.8h-2.8zM421.10 217.90h2.8v2.8h-2.8zM421.10 224.90h2.8v2.8h-2.8zM424.60 217.90h2.8v2.8h-2.8zM424.60 224.90h2.8v2.8h-2.8zM428.10 217.90h2.8v2.8h-2.8zM428.10 224.90h2.8v2.8h-2.8zM431.60 217.90h2.8v2.8h-2.8zM431.60 224.90h2.8v2.8h-2.8zM435.10 217.90h2.8v2.8h-2.8zM435.10 224.90h2.8v2.8h-2.8zM438.60 217.90h2.8v2.8h-2.8zM438.60 224.90h2.8v2.8h-2.8zM445.60 217.90h2.8v2.8h-2.8zM445.60 224.90h2.8v2.8h-2.8zM449.10 217.90h2.8v2.8h-2.8zM449.10 224.90h2.8v2.8h-2.8zM452.60 217.90h2.8v2.8h-2.8zM452.60 224.90h2.8v2.8h-2.8zM456.10 217.90h2.8v2.8h-2.8zM456.10 224.90h2.8v2.8h-2.8zM241.10 238.73h2.8v2.8h-2.8zM241.10 245.73h2.8v2.8h-2.8zM244.60 238.73h2.8v2.8h-2.8zM244.60 245.73h2.8v2.8h-2.8zM257.40 238.73h2.8v2.8h-2.8zM257.40 245.73h2.8v2.8h-2.8zM260.90 238.73h2.8v2.8h-2.8zM260.90 245.73h2.8v2.8h-2.8zM264.40 238.73h2.8v2.8h-2.8zM264.40 245.73h2.8v2.8h-2.8zM267.90 238.73h2.8v2.8h-2.8zM267.90 245.73h2.8v2.8h-2.8zM271.40 238.73h2.8v2.8h-2.8zM271.40 245.73h2.8v2.8h-2.8zM274.90 238.73h2.8v2.8h-2.8zM274.90 245.73h2.8v2.8h-2.8zM278.40 238.73h2.8v2.8h-2.8zM278.40 245.73h2.8v2.8h-2.8zM281.90 238.73h2.8v2.8h-2.8zM281.90 245.73h2.8v2.8h-2.8zM285.40 238.73h2.8v2.8h-2.8zM285.40 245.73h2.8v2.8h-2.8zM288.90 238.73h2.8v2.8h-2.8zM288.90 245.73h2.8v2.8h-2.8zM292.40 238.73h2.8v2.8h-2.8zM292.40 245.73h2.8v2.8h-2.8zM295.90 238.73h2.8v2.8h-2.8zM295.90 245.73h2.8v2.8h-2.8zM299.40 238.73h2.8v2.8h-2.8zM299.40 245.73h2.8v2.8h-2.8zM302.90 238.73h2.8v2.8h-2.8zM302.90 245.73h2.8v2.8h-2.8zM306.40 238.73h2.8v2.8h-2.8zM306.40 245.73h2.8v2.8h-2.8zM309.90 238.73h2.8v2.8h-2.8zM309.90 245.73h2.8v2.8h-2.8zM313.40 238.73h2.8v2.8h-2.8zM313.40 245.73h2.8v2.8h-2.8zM316.90 238.73h2.8v2.8h-2.8zM316.90 245.73h2.8v2.8h-2.8zM344.60 245.90h2.8v2.8h-2.8zM384.60 238.73h2.8v2.8h-2.8zM384.60 245.73h2.8v2.8h-2.8zM388.10 238.73h2.8v2.8h-2.8zM388.10 245.73h2.8v2.8h-2.8zM391.60 238.73h2.8v2.8h-2.8zM391.60 245.73h2.8v2.8h-2.8zM395.10 238.73h2.8v2.8h-2.8zM395.10 245.73h2.8v2.8h-2.8zM398.60 238.73h2.8v2.8h-2.8zM398.60 245.73h2.8v2.8h-2.8zM402.10 238.73h2.8v2.8h-2.8zM402.10 245.73h2.8v2.8h-2.8zM405.60 238.73h2.8v2.8h-2.8zM405.60 245.73h2.8v2.8h-2.8zM409.10 238.73h2.8v2.8h-2.8zM409.10 245.73h2.8v2.8h-2.8zM412.60 238.73h2.8v2.8h-2.8zM412.60 245.73h2.8v2.8h-2.8zM416.10 238.73h2.8v2.8h-2.8zM416.10 245.73h2.8v2.8h-2.8zM419.60 238.73h2.8v2.8h-2.8zM419.60 245.73h2.8v2.8h-2.8zM423.10 238.73h2.8v2.8h-2.8zM423.10 245.73h2.8v2.8h-2.8zM426.60 238.73h2.8v2.8h-2.8zM426.60 245.73h2.8v2.8h-2.8zM430.10 238.73h2.8v2.8h-2.8zM430.10 245.73h2.8v2.8h-2.8zM433.60 238.73h2.8v2.8h-2.8zM433.60 245.73h2.8v2.8h-2.8zM437.10 238.73h2.8v2.8h-2.8zM437.10 245.73h2.8v2.8h-2.8zM440.60 238.73h2.8v2.8h-2.8zM440.60 245.73h2.8v2.8h-2.8zM448.10 238.73h2.8v2.8h-2.8zM448.10 245.73h2.8v2.8h-2.8zM451.60 238.73h2.8v2.8h-2.8zM451.60 245.73h2.8v2.8h-2.8zM455.10 238.73h2.8v2.8h-2.8zM455.10 245.73h2.8v2.8h-2.8zM458.60 238.73h2.8v2.8h-2.8zM458.60 245.73h2.8v2.8h-2.8zM462.10 238.73h2.8v2.8h-2.8zM462.10 245.73h2.8v2.8h-2.8zM465.60 238.73h2.8v2.8h-2.8zM465.60 245.73h2.8v2.8h-2.8zM242.60 259.60h2.8v2.8h-2.8zM242.60 266.60h2.8v2.8h-2.8zM250.10 259.56h2.8v2.8h-2.8zM250.10 266.56h2.8v2.8h-2.8zM253.60 259.56h2.8v2.8h-2.8zM253.60 266.56h2.8v2.8h-2.8zM257.10 259.56h2.8v2.8h-2.8zM257.10 266.56h2.8v2.8h-2.8zM260.60 259.56h2.8v2.8h-2.8zM260.60 266.56h2.8v2.8h-2.8zM264.10 259.56h2.8v2.8h-2.8zM264.10 266.56h2.8v2.8h-2.8zM267.60 259.56h2.8v2.8h-2.8zM267.60 266.56h2.8v2.8h-2.8zM271.10 259.56h2.8v2.8h-2.8zM271.10 266.56h2.8v2.8h-2.8zM274.60 259.56h2.8v2.8h-2.8zM274.60 266.56h2.8v2.8h-2.8zM278.10 259.56h2.8v2.8h-2.8zM278.10 266.56h2.8v2.8h-2.8zM281.60 259.56h2.8v2.8h-2.8zM281.60 266.56h2.8v2.8h-2.8zM285.10 259.56h2.8v2.8h-2.8zM285.10 266.56h2.8v2.8h-2.8zM288.60 259.56h2.8v2.8h-2.8zM288.60 266.56h2.8v2.8h-2.8zM292.10 259.56h2.8v2.8h-2.8zM292.10 266.56h2.8v2.8h-2.8zM295.60 259.56h2.8v2.8h-2.8zM295.60 266.56h2.8v2.8h-2.8zM299.10 259.56h2.8v2.8h-2.8zM299.10 266.56h2.8v2.8h-2.8zM302.60 259.56h2.8v2.8h-2.8zM302.60 266.56h2.8v2.8h-2.8zM306.10 259.56h2.8v2.8h-2.8zM306.10 266.56h2.8v2.8h-2.8zM309.60 259.56h2.8v2.8h-2.8zM309.60 266.56h2.8v2.8h-2.8zM313.10 259.56h2.8v2.8h-2.8zM313.10 266.56h2.8v2.8h-2.8zM316.60 259.56h2.8v2.8h-2.8zM316.60 266.56h2.8v2.8h-2.8zM320.10 259.56h2.8v2.8h-2.8zM320.10 266.56h2.8v2.8h-2.8zM323.60 259.56h2.8v2.8h-2.8zM323.60 266.56h2.8v2.8h-2.8zM327.10 259.56h2.8v2.8h-2.8zM327.10 266.56h2.8v2.8h-2.8zM330.60 259.56h2.8v2.8h-2.8zM330.60 266.56h2.8v2.8h-2.8zM334.10 259.56h2.8v2.8h-2.8zM334.10 266.56h2.8v2.8h-2.8zM365.10 259.56h2.8v2.8h-2.8zM365.10 266.56h2.8v2.8h-2.8zM368.60 259.56h2.8v2.8h-2.8zM368.60 266.56h2.8v2.8h-2.8zM372.10 259.56h2.8v2.8h-2.8zM372.10 266.56h2.8v2.8h-2.8zM375.60 259.56h2.8v2.8h-2.8zM375.60 266.56h2.8v2.8h-2.8zM379.10 259.56h2.8v2.8h-2.8zM379.10 266.56h2.8v2.8h-2.8zM382.60 259.56h2.8v2.8h-2.8zM382.60 266.56h2.8v2.8h-2.8zM386.10 259.56h2.8v2.8h-2.8zM386.10 266.56h2.8v2.8h-2.8zM389.60 259.56h2.8v2.8h-2.8zM389.60 266.56h2.8v2.8h-2.8zM393.10 259.56h2.8v2.8h-2.8zM393.10 266.56h2.8v2.8h-2.8zM396.60 259.56h2.8v2.8h-2.8zM396.60 266.56h2.8v2.8h-2.8zM400.10 259.56h2.8v2.8h-2.8zM400.10 266.56h2.8v2.8h-2.8zM403.60 259.56h2.8v2.8h-2.8zM403.60 266.56h2.8v2.8h-2.8zM407.10 259.56h2.8v2.8h-2.8zM407.10 266.56h2.8v2.8h-2.8zM410.60 259.56h2.8v2.8h-2.8zM410.60 266.56h2.8v2.8h-2.8zM414.10 259.56h2.8v2.8h-2.8zM414.10 266.56h2.8v2.8h-2.8zM417.60 259.56h2.8v2.8h-2.8zM417.60 266.56h2.8v2.8h-2.8zM421.10 259.56h2.8v2.8h-2.8zM421.10 266.56h2.8v2.8h-2.8zM424.60 259.56h2.8v2.8h-2.8zM424.60 266.56h2.8v2.8h-2.8zM428.10 259.56h2.8v2.8h-2.8zM428.10 266.56h2.8v2.8h-2.8zM431.60 259.56h2.8v2.8h-2.8zM431.60 266.56h2.8v2.8h-2.8zM447.60 259.56h2.8v2.8h-2.8zM447.60 266.56h2.8v2.8h-2.8zM451.10 259.56h2.8v2.8h-2.8zM451.10 266.56h2.8v2.8h-2.8zM454.60 259.56h2.8v2.8h-2.8zM454.60 266.56h2.8v2.8h-2.8zM458.10 259.56h2.8v2.8h-2.8zM458.10 266.56h2.8v2.8h-2.8zM461.60 259.56h2.8v2.8h-2.8zM461.60 266.56h2.8v2.8h-2.8zM465.10 259.56h2.8v2.8h-2.8zM465.10 266.56h2.8v2.8h-2.8zM468.60 259.56h2.8v2.8h-2.8zM468.60 266.56h2.8v2.8h-2.8zM255.10 280.39h2.8v2.8h-2.8zM255.10 287.39h2.8v2.8h-2.8zM258.60 280.39h2.8v2.8h-2.8zM258.60 287.39h2.8v2.8h-2.8zM262.10 280.39h2.8v2.8h-2.8zM262.10 287.39h2.8v2.8h-2.8zM265.60 280.39h2.8v2.8h-2.8zM265.60 287.39h2.8v2.8h-2.8zM269.10 280.39h2.8v2.8h-2.8zM269.10 287.39h2.8v2.8h-2.8zM272.60 280.39h2.8v2.8h-2.8zM272.60 287.39h2.8v2.8h-2.8zM276.10 280.39h2.8v2.8h-2.8zM276.10 287.39h2.8v2.8h-2.8zM279.60 280.39h2.8v2.8h-2.8zM279.60 287.39h2.8v2.8h-2.8zM283.10 280.39h2.8v2.8h-2.8zM283.10 287.39h2.8v2.8h-2.8zM286.60 280.39h2.8v2.8h-2.8zM286.60 287.39h2.8v2.8h-2.8zM290.10 280.39h2.8v2.8h-2.8zM290.10 287.39h2.8v2.8h-2.8zM293.60 280.39h2.8v2.8h-2.8zM293.60 287.39h2.8v2.8h-2.8zM297.10 280.39h2.8v2.8h-2.8zM297.10 287.39h2.8v2.8h-2.8zM300.60 280.39h2.8v2.8h-2.8zM300.60 287.39h2.8v2.8h-2.8zM304.10 280.39h2.8v2.8h-2.8zM304.10 287.39h2.8v2.8h-2.8zM307.60 280.39h2.8v2.8h-2.8zM307.60 287.39h2.8v2.8h-2.8zM311.10 280.39h2.8v2.8h-2.8zM311.10 287.39h2.8v2.8h-2.8zM314.60 280.39h2.8v2.8h-2.8zM314.60 287.39h2.8v2.8h-2.8zM318.10 280.39h2.8v2.8h-2.8zM318.10 287.39h2.8v2.8h-2.8zM321.60 280.39h2.8v2.8h-2.8zM321.60 287.39h2.8v2.8h-2.8zM325.10 280.39h2.8v2.8h-2.8zM325.10 287.39h2.8v2.8h-2.8zM328.60 280.39h2.8v2.8h-2.8zM328.60 287.39h2.8v2.8h-2.8zM332.10 280.39h2.8v2.8h-2.8zM332.10 287.39h2.8v2.8h-2.8zM335.60 280.39h2.8v2.8h-2.8zM335.60 287.39h2.8v2.8h-2.8zM339.10 280.39h2.8v2.8h-2.8zM339.10 287.39h2.8v2.8h-2.8zM342.60 280.39h2.8v2.8h-2.8zM342.60 287.39h2.8v2.8h-2.8zM363.60 280.39h2.8v2.8h-2.8zM363.60 287.39h2.8v2.8h-2.8zM367.10 280.39h2.8v2.8h-2.8zM367.10 287.39h2.8v2.8h-2.8zM370.60 280.39h2.8v2.8h-2.8zM370.60 287.39h2.8v2.8h-2.8zM374.10 280.39h2.8v2.8h-2.8zM374.10 287.39h2.8v2.8h-2.8zM377.60 280.39h2.8v2.8h-2.8zM377.60 287.39h2.8v2.8h-2.8zM381.10 280.39h2.8v2.8h-2.8zM381.10 287.39h2.8v2.8h-2.8zM384.60 280.39h2.8v2.8h-2.8zM384.60 287.39h2.8v2.8h-2.8zM388.10 280.39h2.8v2.8h-2.8zM388.10 287.39h2.8v2.8h-2.8zM391.60 280.39h2.8v2.8h-2.8zM391.60 287.39h2.8v2.8h-2.8zM395.10 280.39h2.8v2.8h-2.8zM395.10 287.39h2.8v2.8h-2.8zM398.60 280.39h2.8v2.8h-2.8zM398.60 287.39h2.8v2.8h-2.8zM402.10 280.39h2.8v2.8h-2.8zM402.10 287.39h2.8v2.8h-2.8zM405.60 280.39h2.8v2.8h-2.8zM405.60 287.39h2.8v2.8h-2.8zM409.10 280.39h2.8v2.8h-2.8zM409.10 287.39h2.8v2.8h-2.8zM412.60 280.39h2.8v2.8h-2.8zM412.60 287.39h2.8v2.8h-2.8zM416.10 280.39h2.8v2.8h-2.8zM416.10 287.39h2.8v2.8h-2.8zM419.60 280.39h2.8v2.8h-2.8zM419.60 287.39h2.8v2.8h-2.8zM423.10 280.39h2.8v2.8h-2.8zM423.10 287.39h2.8v2.8h-2.8zM426.60 280.39h2.8v2.8h-2.8zM426.60 287.39h2.8v2.8h-2.8zM439.10 280.39h2.8v2.8h-2.8zM439.10 287.39h2.8v2.8h-2.8zM442.60 280.39h2.8v2.8h-2.8zM442.60 287.39h2.8v2.8h-2.8zM446.10 280.39h2.8v2.8h-2.8zM446.10 287.39h2.8v2.8h-2.8zM449.60 280.39h2.8v2.8h-2.8zM449.60 287.39h2.8v2.8h-2.8zM453.10 280.39h2.8v2.8h-2.8zM453.10 287.39h2.8v2.8h-2.8zM456.60 280.39h2.8v2.8h-2.8zM456.60 287.39h2.8v2.8h-2.8zM316.60 363.71h2.8v2.8h-2.8zM316.60 370.71h2.8v2.8h-2.8zM320.10 363.71h2.8v2.8h-2.8zM320.10 370.71h2.8v2.8h-2.8zM323.60 363.71h2.8v2.8h-2.8zM323.60 370.71h2.8v2.8h-2.8zM327.10 363.71h2.8v2.8h-2.8zM327.10 370.71h2.8v2.8h-2.8zM330.60 363.71h2.8v2.8h-2.8zM330.60 370.71h2.8v2.8h-2.8zM361.10 363.71h2.8v2.8h-2.8zM361.10 370.71h2.8v2.8h-2.8zM364.60 363.71h2.8v2.8h-2.8zM364.60 370.71h2.8v2.8h-2.8zM368.10 363.71h2.8v2.8h-2.8zM368.10 370.71h2.8v2.8h-2.8zM371.60 363.71h2.8v2.8h-2.8zM371.60 370.71h2.8v2.8h-2.8zM375.10 363.71h2.8v2.8h-2.8zM375.10 370.71h2.8v2.8h-2.8zM378.60 363.71h2.8v2.8h-2.8zM378.60 370.71h2.8v2.8h-2.8zM382.10 363.71h2.8v2.8h-2.8zM382.10 370.71h2.8v2.8h-2.8zM385.60 363.71h2.8v2.8h-2.8zM385.60 370.71h2.8v2.8h-2.8zM389.10 363.71h2.8v2.8h-2.8zM389.10 370.71h2.8v2.8h-2.8zM392.60 363.71h2.8v2.8h-2.8zM392.60 370.71h2.8v2.8h-2.8zM396.10 363.71h2.8v2.8h-2.8zM396.10 370.71h2.8v2.8h-2.8zM299.10 384.54h2.8v2.8h-2.8zM299.10 391.54h2.8v2.8h-2.8zM302.60 384.54h2.8v2.8h-2.8zM302.60 391.54h2.8v2.8h-2.8zM306.10 384.54h2.8v2.8h-2.8zM306.10 391.54h2.8v2.8h-2.8zM309.60 384.54h2.8v2.8h-2.8zM309.60 391.54h2.8v2.8h-2.8zM313.10 384.54h2.8v2.8h-2.8zM313.10 391.54h2.8v2.8h-2.8zM316.60 384.54h2.8v2.8h-2.8zM316.60 391.54h2.8v2.8h-2.8zM320.10 384.54h2.8v2.8h-2.8zM320.10 391.54h2.8v2.8h-2.8zM323.60 384.54h2.8v2.8h-2.8zM323.60 391.54h2.8v2.8h-2.8zM327.10 384.54h2.8v2.8h-2.8zM327.10 391.54h2.8v2.8h-2.8zM330.60 384.54h2.8v2.8h-2.8zM330.60 391.54h2.8v2.8h-2.8zM334.10 384.54h2.8v2.8h-2.8zM334.10 391.54h2.8v2.8h-2.8zM337.60 384.54h2.8v2.8h-2.8zM337.60 391.54h2.8v2.8h-2.8zM341.10 384.54h2.8v2.8h-2.8zM341.10 391.54h2.8v2.8h-2.8zM344.60 384.54h2.8v2.8h-2.8zM344.60 391.54h2.8v2.8h-2.8zM348.10 384.54h2.8v2.8h-2.8zM348.10 391.54h2.8v2.8h-2.8zM351.60 384.54h2.8v2.8h-2.8zM351.60 391.54h2.8v2.8h-2.8zM358.10 384.54h2.8v2.8h-2.8zM358.10 391.54h2.8v2.8h-2.8zM361.60 384.54h2.8v2.8h-2.8zM361.60 391.54h2.8v2.8h-2.8zM309.10 405.37h2.8v2.8h-2.8zM309.10 412.37h2.8v2.8h-2.8zM312.60 405.37h2.8v2.8h-2.8zM312.60 412.37h2.8v2.8h-2.8zM316.10 405.37h2.8v2.8h-2.8zM316.10 412.37h2.8v2.8h-2.8zM319.60 405.37h2.8v2.8h-2.8zM319.60 412.37h2.8v2.8h-2.8zM323.10 405.37h2.8v2.8h-2.8zM323.10 412.37h2.8v2.8h-2.8zM450.50 412.20h2.8v2.8h-2.8zM469.10 405.37h2.8v2.8h-2.8zM469.10 412.37h2.8v2.8h-2.8zM472.60 405.37h2.8v2.8h-2.8zM472.60 412.37h2.8v2.8h-2.8zM476.10 405.37h2.8v2.8h-2.8zM476.10 412.37h2.8v2.8h-2.8zM479.60 405.37h2.8v2.8h-2.8zM479.60 412.37h2.8v2.8h-2.8zM435.60 426.20h2.8v2.8h-2.8zM435.60 433.20h2.8v2.8h-2.8zM439.10 426.20h2.8v2.8h-2.8zM439.10 433.20h2.8v2.8h-2.8zM442.60 426.20h2.8v2.8h-2.8zM442.60 433.20h2.8v2.8h-2.8zM446.10 426.20h2.8v2.8h-2.8zM446.10 433.20h2.8v2.8h-2.8zM449.60 426.20h2.8v2.8h-2.8zM449.60 433.20h2.8v2.8h-2.8zM453.10 426.20h2.8v2.8h-2.8zM453.10 433.20h2.8v2.8h-2.8zM456.60 426.20h2.8v2.8h-2.8zM456.60 433.20h2.8v2.8h-2.8zM460.10 426.20h2.8v2.8h-2.8zM460.10 433.20h2.8v2.8h-2.8zM463.60 426.20h2.8v2.8h-2.8zM463.60 433.20h2.8v2.8h-2.8zM467.10 426.20h2.8v2.8h-2.8zM467.10 433.20h2.8v2.8h-2.8zM470.60 426.20h2.8v2.8h-2.8zM470.60 433.20h2.8v2.8h-2.8zM474.10 426.20h2.8v2.8h-2.8zM474.10 433.20h2.8v2.8h-2.8zM477.60 426.20h2.8v2.8h-2.8zM477.60 433.20h2.8v2.8h-2.8zM397.80 433.10h2.8v2.8h-2.8zM401.30 433.10h2.8v2.8h-2.8zM347.10 453.10h2.8v2.8h-2.8zM350.60 453.10h2.8v2.8h-2.8zM354.10 453.10h2.8v2.8h-2.8zM391.10 447.03h2.8v2.8h-2.8zM391.10 454.03h2.8v2.8h-2.8zM394.60 447.03h2.8v2.8h-2.8zM394.60 454.03h2.8v2.8h-2.8zM398.10 447.03h2.8v2.8h-2.8zM398.10 454.03h2.8v2.8h-2.8zM401.60 447.03h2.8v2.8h-2.8zM401.60 454.03h2.8v2.8h-2.8zM405.10 447.03h2.8v2.8h-2.8zM405.10 454.03h2.8v2.8h-2.8zM408.60 447.03h2.8v2.8h-2.8zM408.60 454.03h2.8v2.8h-2.8zM412.10 447.03h2.8v2.8h-2.8zM412.10 454.03h2.8v2.8h-2.8zM415.60 447.03h2.8v2.8h-2.8zM415.60 454.03h2.8v2.8h-2.8zM419.10 447.03h2.8v2.8h-2.8zM419.10 454.03h2.8v2.8h-2.8zM422.60 447.03h2.8v2.8h-2.8zM422.60 454.03h2.8v2.8h-2.8zM426.10 447.03h2.8v2.8h-2.8zM426.10 454.03h2.8v2.8h-2.8zM429.60 447.03h2.8v2.8h-2.8zM429.60 454.03h2.8v2.8h-2.8zM433.10 447.03h2.8v2.8h-2.8zM433.10 454.03h2.8v2.8h-2.8zM436.60 447.03h2.8v2.8h-2.8zM436.60 454.03h2.8v2.8h-2.8zM440.10 447.03h2.8v2.8h-2.8zM440.10 454.03h2.8v2.8h-2.8zM443.60 447.03h2.8v2.8h-2.8zM443.60 454.03h2.8v2.8h-2.8zM447.10 447.03h2.8v2.8h-2.8zM447.10 454.03h2.8v2.8h-2.8zM450.60 447.03h2.8v2.8h-2.8zM450.60 454.03h2.8v2.8h-2.8zM454.10 447.03h2.8v2.8h-2.8zM454.10 454.03h2.8v2.8h-2.8zM457.60 447.03h2.8v2.8h-2.8zM457.60 454.03h2.8v2.8h-2.8zM461.10 447.03h2.8v2.8h-2.8zM461.10 454.03h2.8v2.8h-2.8zM464.60 447.03h2.8v2.8h-2.8zM464.60 454.03h2.8v2.8h-2.8zM468.10 447.03h2.8v2.8h-2.8zM468.10 454.03h2.8v2.8h-2.8zM471.60 447.03h2.8v2.8h-2.8zM471.60 454.03h2.8v2.8h-2.8zM475.10 447.03h2.8v2.8h-2.8zM475.10 454.03h2.8v2.8h-2.8zM478.60 447.03h2.8v2.8h-2.8zM478.60 454.03h2.8v2.8h-2.8zM482.10 447.03h2.8v2.8h-2.8zM482.10 454.03h2.8v2.8h-2.8zM485.60 447.03h2.8v2.8h-2.8zM485.60 454.03h2.8v2.8h-2.8zM489.10 447.03h2.8v2.8h-2.8zM489.10 454.03h2.8v2.8h-2.8zM492.60 447.03h2.8v2.8h-2.8zM492.60 454.03h2.8v2.8h-2.8zM496.10 447.03h2.8v2.8h-2.8zM496.10 454.03h2.8v2.8h-2.8zM499.60 447.03h2.8v2.8h-2.8zM499.60 454.03h2.8v2.8h-2.8zM503.10 447.03h2.8v2.8h-2.8zM503.10 454.03h2.8v2.8h-2.8zM506.60 447.03h2.8v2.8h-2.8zM506.60 454.03h2.8v2.8h-2.8zM510.10 447.03h2.8v2.8h-2.8zM510.10 454.03h2.8v2.8h-2.8zM513.60 447.03h2.8v2.8h-2.8zM513.60 454.03h2.8v2.8h-2.8zM517.10 447.03h2.8v2.8h-2.8zM517.10 454.03h2.8v2.8h-2.8zM345.10 467.86h2.8v2.8h-2.8zM345.10 474.86h2.8v2.8h-2.8zM348.60 467.86h2.8v2.8h-2.8zM348.60 474.86h2.8v2.8h-2.8zM352.10 467.86h2.8v2.8h-2.8zM352.10 474.86h2.8v2.8h-2.8zM355.60 467.86h2.8v2.8h-2.8zM355.60 474.86h2.8v2.8h-2.8zM359.10 467.86h2.8v2.8h-2.8zM359.10 474.86h2.8v2.8h-2.8zM362.60 467.86h2.8v2.8h-2.8zM362.60 474.86h2.8v2.8h-2.8zM366.10 467.86h2.8v2.8h-2.8zM366.10 474.86h2.8v2.8h-2.8zM369.60 467.86h2.8v2.8h-2.8zM369.60 474.86h2.8v2.8h-2.8zM373.10 467.86h2.8v2.8h-2.8zM373.10 474.86h2.8v2.8h-2.8zM376.60 467.86h2.8v2.8h-2.8zM376.60 474.86h2.8v2.8h-2.8zM380.10 467.86h2.8v2.8h-2.8zM380.10 474.86h2.8v2.8h-2.8zM383.60 467.86h2.8v2.8h-2.8zM383.60 474.86h2.8v2.8h-2.8zM391.10 467.86h2.8v2.8h-2.8zM391.10 474.86h2.8v2.8h-2.8zM394.60 467.86h2.8v2.8h-2.8zM394.60 474.86h2.8v2.8h-2.8zM398.10 467.86h2.8v2.8h-2.8zM398.10 474.86h2.8v2.8h-2.8zM401.60 467.86h2.8v2.8h-2.8zM401.60 474.86h2.8v2.8h-2.8zM405.10 467.86h2.8v2.8h-2.8zM405.10 474.86h2.8v2.8h-2.8zM408.60 467.86h2.8v2.8h-2.8zM408.60 474.86h2.8v2.8h-2.8zM412.10 467.86h2.8v2.8h-2.8zM412.10 474.86h2.8v2.8h-2.8zM415.60 467.86h2.8v2.8h-2.8zM415.60 474.86h2.8v2.8h-2.8zM419.10 467.86h2.8v2.8h-2.8zM419.10 474.86h2.8v2.8h-2.8zM422.60 467.86h2.8v2.8h-2.8zM422.60 474.86h2.8v2.8h-2.8zM426.10 467.86h2.8v2.8h-2.8zM426.10 474.86h2.8v2.8h-2.8zM429.60 467.86h2.8v2.8h-2.8zM429.60 474.86h2.8v2.8h-2.8zM433.10 467.86h2.8v2.8h-2.8zM433.10 474.86h2.8v2.8h-2.8zM436.60 467.86h2.8v2.8h-2.8zM436.60 474.86h2.8v2.8h-2.8zM440.10 467.86h2.8v2.8h-2.8zM440.10 474.86h2.8v2.8h-2.8zM443.60 467.86h2.8v2.8h-2.8zM443.60 474.86h2.8v2.8h-2.8zM447.10 467.86h2.8v2.8h-2.8zM447.10 474.86h2.8v2.8h-2.8zM450.60 467.86h2.8v2.8h-2.8zM450.60 474.86h2.8v2.8h-2.8zM454.10 467.86h2.8v2.8h-2.8zM454.10 474.86h2.8v2.8h-2.8zM457.60 467.86h2.8v2.8h-2.8zM457.60 474.86h2.8v2.8h-2.8zM461.10 467.86h2.8v2.8h-2.8zM461.10 474.86h2.8v2.8h-2.8zM464.60 467.86h2.8v2.8h-2.8zM464.60 474.86h2.8v2.8h-2.8zM468.10 467.86h2.8v2.8h-2.8zM468.10 474.86h2.8v2.8h-2.8zM471.60 467.86h2.8v2.8h-2.8zM471.60 474.86h2.8v2.8h-2.8zM475.10 467.86h2.8v2.8h-2.8zM475.10 474.86h2.8v2.8h-2.8zM478.60 467.86h2.8v2.8h-2.8zM478.60 474.86h2.8v2.8h-2.8zM482.10 467.86h2.8v2.8h-2.8zM482.10 474.86h2.8v2.8h-2.8zM485.60 467.86h2.8v2.8h-2.8zM485.60 474.86h2.8v2.8h-2.8zM489.10 467.86h2.8v2.8h-2.8zM489.10 474.86h2.8v2.8h-2.8zM492.60 467.86h2.8v2.8h-2.8zM492.60 474.86h2.8v2.8h-2.8zM496.10 467.86h2.8v2.8h-2.8zM496.10 474.86h2.8v2.8h-2.8zM499.60 467.86h2.8v2.8h-2.8zM499.60 474.86h2.8v2.8h-2.8zM503.10 467.86h2.8v2.8h-2.8zM503.10 474.86h2.8v2.8h-2.8zM330.60 488.69h2.8v2.8h-2.8zM330.60 495.69h2.8v2.8h-2.8zM334.10 488.69h2.8v2.8h-2.8zM334.10 495.69h2.8v2.8h-2.8zM337.60 488.69h2.8v2.8h-2.8zM337.60 495.69h2.8v2.8h-2.8zM341.10 488.69h2.8v2.8h-2.8zM341.10 495.69h2.8v2.8h-2.8zM344.60 488.69h2.8v2.8h-2.8zM344.60 495.69h2.8v2.8h-2.8zM348.10 488.69h2.8v2.8h-2.8zM348.10 495.69h2.8v2.8h-2.8zM351.60 488.69h2.8v2.8h-2.8zM351.60 495.69h2.8v2.8h-2.8zM355.10 488.69h2.8v2.8h-2.8zM355.10 495.69h2.8v2.8h-2.8zM358.60 488.69h2.8v2.8h-2.8zM358.60 495.69h2.8v2.8h-2.8zM362.10 488.69h2.8v2.8h-2.8zM362.10 495.69h2.8v2.8h-2.8zM365.60 488.69h2.8v2.8h-2.8zM365.60 495.69h2.8v2.8h-2.8zM369.10 488.69h2.8v2.8h-2.8zM369.10 495.69h2.8v2.8h-2.8zM372.60 488.69h2.8v2.8h-2.8zM372.60 495.69h2.8v2.8h-2.8zM376.10 488.69h2.8v2.8h-2.8zM376.10 495.69h2.8v2.8h-2.8zM379.60 488.69h2.8v2.8h-2.8zM379.60 495.69h2.8v2.8h-2.8zM383.10 488.69h2.8v2.8h-2.8zM383.10 495.69h2.8v2.8h-2.8zM391.10 488.69h2.8v2.8h-2.8zM391.10 495.69h2.8v2.8h-2.8zM394.60 488.69h2.8v2.8h-2.8zM394.60 495.69h2.8v2.8h-2.8zM398.10 488.69h2.8v2.8h-2.8zM398.10 495.69h2.8v2.8h-2.8zM401.60 488.69h2.8v2.8h-2.8zM401.60 495.69h2.8v2.8h-2.8zM405.10 488.69h2.8v2.8h-2.8zM405.10 495.69h2.8v2.8h-2.8zM408.60 488.69h2.8v2.8h-2.8zM408.60 495.69h2.8v2.8h-2.8zM412.10 488.69h2.8v2.8h-2.8zM412.10 495.69h2.8v2.8h-2.8zM415.60 488.69h2.8v2.8h-2.8zM415.60 495.69h2.8v2.8h-2.8zM419.10 488.69h2.8v2.8h-2.8zM419.10 495.69h2.8v2.8h-2.8zM422.60 488.69h2.8v2.8h-2.8zM422.60 495.69h2.8v2.8h-2.8zM426.10 488.69h2.8v2.8h-2.8zM426.10 495.69h2.8v2.8h-2.8zM429.60 488.69h2.8v2.8h-2.8zM429.60 495.69h2.8v2.8h-2.8zM433.10 488.69h2.8v2.8h-2.8zM433.10 495.69h2.8v2.8h-2.8zM436.60 488.69h2.8v2.8h-2.8zM436.60 495.69h2.8v2.8h-2.8zM440.10 488.69h2.8v2.8h-2.8zM440.10 495.69h2.8v2.8h-2.8zM443.60 488.69h2.8v2.8h-2.8zM443.60 495.69h2.8v2.8h-2.8zM447.10 488.69h2.8v2.8h-2.8zM447.10 495.69h2.8v2.8h-2.8zM450.60 488.69h2.8v2.8h-2.8zM450.60 495.69h2.8v2.8h-2.8zM454.10 488.69h2.8v2.8h-2.8zM454.10 495.69h2.8v2.8h-2.8zM457.60 488.69h2.8v2.8h-2.8zM457.60 495.69h2.8v2.8h-2.8zM461.10 488.69h2.8v2.8h-2.8zM461.10 495.69h2.8v2.8h-2.8zM464.60 488.69h2.8v2.8h-2.8zM464.60 495.69h2.8v2.8h-2.8zM468.10 488.69h2.8v2.8h-2.8zM468.10 495.69h2.8v2.8h-2.8zM471.60 488.69h2.8v2.8h-2.8zM471.60 495.69h2.8v2.8h-2.8zM475.10 488.69h2.8v2.8h-2.8zM475.10 495.69h2.8v2.8h-2.8zM478.60 488.69h2.8v2.8h-2.8zM478.60 495.69h2.8v2.8h-2.8zM482.10 488.69h2.8v2.8h-2.8zM482.10 495.69h2.8v2.8h-2.8zM485.60 488.69h2.8v2.8h-2.8zM485.60 495.69h2.8v2.8h-2.8zM489.10 488.69h2.8v2.8h-2.8zM489.10 495.69h2.8v2.8h-2.8zM492.60 488.69h2.8v2.8h-2.8zM492.60 495.69h2.8v2.8h-2.8zM513.60 488.69h2.8v2.8h-2.8zM513.60 495.69h2.8v2.8h-2.8zM522.90 488.69h2.8v2.8h-2.8zM522.90 495.69h2.8v2.8h-2.8zM532.20 488.69h2.8v2.8h-2.8zM532.20 495.69h2.8v2.8h-2.8zM541.50 488.69h2.8v2.8h-2.8zM541.50 495.69h2.8v2.8h-2.8zM550.80 488.69h2.8v2.8h-2.8zM550.80 495.69h2.8v2.8h-2.8zM328.60 509.52h2.8v2.8h-2.8zM328.60 516.52h2.8v2.8h-2.8zM332.10 509.52h2.8v2.8h-2.8zM332.10 516.52h2.8v2.8h-2.8zM335.60 509.52h2.8v2.8h-2.8zM335.60 516.52h2.8v2.8h-2.8zM339.10 509.52h2.8v2.8h-2.8zM339.10 516.52h2.8v2.8h-2.8zM342.60 509.52h2.8v2.8h-2.8zM342.60 516.52h2.8v2.8h-2.8zM346.10 509.52h2.8v2.8h-2.8zM346.10 516.52h2.8v2.8h-2.8zM349.60 509.52h2.8v2.8h-2.8zM349.60 516.52h2.8v2.8h-2.8zM353.10 509.52h2.8v2.8h-2.8zM353.10 516.52h2.8v2.8h-2.8zM356.60 509.52h2.8v2.8h-2.8zM356.60 516.52h2.8v2.8h-2.8zM360.10 509.52h2.8v2.8h-2.8zM360.10 516.52h2.8v2.8h-2.8zM363.60 509.52h2.8v2.8h-2.8zM363.60 516.52h2.8v2.8h-2.8zM367.10 509.52h2.8v2.8h-2.8zM367.10 516.52h2.8v2.8h-2.8zM370.60 509.52h2.8v2.8h-2.8zM370.60 516.52h2.8v2.8h-2.8zM374.10 509.52h2.8v2.8h-2.8zM374.10 516.52h2.8v2.8h-2.8zM377.60 509.52h2.8v2.8h-2.8zM377.60 516.52h2.8v2.8h-2.8zM381.10 509.52h2.8v2.8h-2.8zM381.10 516.52h2.8v2.8h-2.8zM393.60 509.52h2.8v2.8h-2.8zM393.60 516.52h2.8v2.8h-2.8zM397.10 509.52h2.8v2.8h-2.8zM397.10 516.52h2.8v2.8h-2.8zM400.60 509.52h2.8v2.8h-2.8zM400.60 516.52h2.8v2.8h-2.8zM404.10 509.52h2.8v2.8h-2.8zM404.10 516.52h2.8v2.8h-2.8zM407.60 509.52h2.8v2.8h-2.8zM407.60 516.52h2.8v2.8h-2.8zM411.10 509.52h2.8v2.8h-2.8zM411.10 516.52h2.8v2.8h-2.8zM414.60 509.52h2.8v2.8h-2.8zM414.60 516.52h2.8v2.8h-2.8zM418.10 509.52h2.8v2.8h-2.8zM418.10 516.52h2.8v2.8h-2.8zM421.60 509.52h2.8v2.8h-2.8zM421.60 516.52h2.8v2.8h-2.8zM425.10 509.52h2.8v2.8h-2.8zM425.10 516.52h2.8v2.8h-2.8zM428.60 509.52h2.8v2.8h-2.8zM428.60 516.52h2.8v2.8h-2.8zM432.10 509.52h2.8v2.8h-2.8zM432.10 516.52h2.8v2.8h-2.8zM435.60 509.52h2.8v2.8h-2.8zM435.60 516.52h2.8v2.8h-2.8zM439.10 509.52h2.8v2.8h-2.8zM439.10 516.52h2.8v2.8h-2.8zM442.60 509.52h2.8v2.8h-2.8zM442.60 516.52h2.8v2.8h-2.8zM446.10 509.52h2.8v2.8h-2.8zM446.10 516.52h2.8v2.8h-2.8zM449.60 509.52h2.8v2.8h-2.8zM449.60 516.52h2.8v2.8h-2.8zM453.10 509.52h2.8v2.8h-2.8zM453.10 516.52h2.8v2.8h-2.8zM456.60 509.52h2.8v2.8h-2.8zM456.60 516.52h2.8v2.8h-2.8zM460.10 509.52h2.8v2.8h-2.8zM460.10 516.52h2.8v2.8h-2.8zM463.60 509.52h2.8v2.8h-2.8zM463.60 516.52h2.8v2.8h-2.8zM467.10 509.52h2.8v2.8h-2.8zM467.10 516.52h2.8v2.8h-2.8zM470.60 509.52h2.8v2.8h-2.8zM470.60 516.52h2.8v2.8h-2.8zM474.10 509.52h2.8v2.8h-2.8zM474.10 516.52h2.8v2.8h-2.8zM477.60 509.52h2.8v2.8h-2.8zM477.60 516.52h2.8v2.8h-2.8zM481.10 509.52h2.8v2.8h-2.8zM481.10 516.52h2.8v2.8h-2.8zM484.60 509.52h2.8v2.8h-2.8zM484.60 516.52h2.8v2.8h-2.8zM505.60 509.52h2.8v2.8h-2.8zM505.60 516.52h2.8v2.8h-2.8zM514.90 509.52h2.8v2.8h-2.8zM514.90 516.52h2.8v2.8h-2.8zM524.20 509.52h2.8v2.8h-2.8zM524.20 516.52h2.8v2.8h-2.8zM533.50 509.52h2.8v2.8h-2.8zM533.50 516.52h2.8v2.8h-2.8zM542.80 509.52h2.8v2.8h-2.8zM542.80 516.52h2.8v2.8h-2.8zM552.10 509.52h2.8v2.8h-2.8zM552.10 516.52h2.8v2.8h-2.8zM312.60 530.35h2.8v2.8h-2.8zM312.60 537.35h2.8v2.8h-2.8zM316.10 530.35h2.8v2.8h-2.8zM316.10 537.35h2.8v2.8h-2.8zM319.60 530.35h2.8v2.8h-2.8zM319.60 537.35h2.8v2.8h-2.8zM323.10 530.35h2.8v2.8h-2.8zM323.10 537.35h2.8v2.8h-2.8zM326.60 530.35h2.8v2.8h-2.8zM326.60 537.35h2.8v2.8h-2.8zM330.10 530.35h2.8v2.8h-2.8zM330.10 537.35h2.8v2.8h-2.8zM333.60 530.35h2.8v2.8h-2.8zM333.60 537.35h2.8v2.8h-2.8zM337.10 530.35h2.8v2.8h-2.8zM337.10 537.35h2.8v2.8h-2.8zM340.60 530.35h2.8v2.8h-2.8zM340.60 537.35h2.8v2.8h-2.8zM344.10 530.35h2.8v2.8h-2.8zM344.10 537.35h2.8v2.8h-2.8zM347.60 530.35h2.8v2.8h-2.8zM347.60 537.35h2.8v2.8h-2.8zM351.10 530.35h2.8v2.8h-2.8zM351.10 537.35h2.8v2.8h-2.8zM354.60 530.35h2.8v2.8h-2.8zM354.60 537.35h2.8v2.8h-2.8zM358.10 530.35h2.8v2.8h-2.8zM358.10 537.35h2.8v2.8h-2.8zM361.60 530.35h2.8v2.8h-2.8zM361.60 537.35h2.8v2.8h-2.8zM365.10 530.35h2.8v2.8h-2.8zM365.10 537.35h2.8v2.8h-2.8zM368.60 530.35h2.8v2.8h-2.8zM368.60 537.35h2.8v2.8h-2.8zM372.10 530.35h2.8v2.8h-2.8zM372.10 537.35h2.8v2.8h-2.8zM375.60 530.35h2.8v2.8h-2.8zM375.60 537.35h2.8v2.8h-2.8zM379.10 530.35h2.8v2.8h-2.8zM379.10 537.35h2.8v2.8h-2.8zM382.60 530.35h2.8v2.8h-2.8zM382.60 537.35h2.8v2.8h-2.8zM386.10 530.35h2.8v2.8h-2.8zM386.10 537.35h2.8v2.8h-2.8zM400.10 530.35h2.8v2.8h-2.8zM400.10 537.35h2.8v2.8h-2.8zM403.60 530.35h2.8v2.8h-2.8zM403.60 537.35h2.8v2.8h-2.8zM407.10 530.35h2.8v2.8h-2.8zM407.10 537.35h2.8v2.8h-2.8zM410.60 530.35h2.8v2.8h-2.8zM410.60 537.35h2.8v2.8h-2.8zM414.10 530.35h2.8v2.8h-2.8zM414.10 537.35h2.8v2.8h-2.8zM417.60 530.35h2.8v2.8h-2.8zM417.60 537.35h2.8v2.8h-2.8zM421.10 530.35h2.8v2.8h-2.8zM421.10 537.35h2.8v2.8h-2.8zM424.60 530.35h2.8v2.8h-2.8zM424.60 537.35h2.8v2.8h-2.8zM428.10 530.35h2.8v2.8h-2.8zM428.10 537.35h2.8v2.8h-2.8zM431.60 530.35h2.8v2.8h-2.8zM431.60 537.35h2.8v2.8h-2.8zM435.10 530.35h2.8v2.8h-2.8zM435.10 537.35h2.8v2.8h-2.8zM438.60 530.35h2.8v2.8h-2.8zM438.60 537.35h2.8v2.8h-2.8zM442.10 530.35h2.8v2.8h-2.8zM442.10 537.35h2.8v2.8h-2.8zM445.60 530.35h2.8v2.8h-2.8zM445.60 537.35h2.8v2.8h-2.8zM449.10 530.35h2.8v2.8h-2.8zM449.10 537.35h2.8v2.8h-2.8zM452.60 530.35h2.8v2.8h-2.8zM452.60 537.35h2.8v2.8h-2.8zM456.10 530.35h2.8v2.8h-2.8zM456.10 537.35h2.8v2.8h-2.8zM459.60 530.35h2.8v2.8h-2.8zM459.60 537.35h2.8v2.8h-2.8zM463.10 530.35h2.8v2.8h-2.8zM463.10 537.35h2.8v2.8h-2.8zM466.60 530.35h2.8v2.8h-2.8zM466.60 537.35h2.8v2.8h-2.8zM470.10 530.35h2.8v2.8h-2.8zM470.10 537.35h2.8v2.8h-2.8zM473.60 530.35h2.8v2.8h-2.8zM473.60 537.35h2.8v2.8h-2.8zM477.10 530.35h2.8v2.8h-2.8zM477.10 537.35h2.8v2.8h-2.8zM497.10 530.35h2.8v2.8h-2.8zM497.10 537.35h2.8v2.8h-2.8zM506.40 530.35h2.8v2.8h-2.8zM506.40 537.35h2.8v2.8h-2.8zM515.70 530.35h2.8v2.8h-2.8zM515.70 537.35h2.8v2.8h-2.8zM525.00 530.35h2.8v2.8h-2.8zM525.00 537.35h2.8v2.8h-2.8zM534.30 530.35h2.8v2.8h-2.8zM534.30 537.35h2.8v2.8h-2.8zM543.60 530.35h2.8v2.8h-2.8zM543.60 537.35h2.8v2.8h-2.8zM552.90 530.35h2.8v2.8h-2.8zM552.90 537.35h2.8v2.8h-2.8zM562.20 530.35h2.8v2.8h-2.8zM562.20 537.35h2.8v2.8h-2.8zM278.10 551.18h2.8v2.8h-2.8zM278.10 558.18h2.8v2.8h-2.8zM287.40 551.18h2.8v2.8h-2.8zM287.40 558.18h2.8v2.8h-2.8zM296.70 551.18h2.8v2.8h-2.8zM296.70 558.18h2.8v2.8h-2.8zM306.00 551.18h2.8v2.8h-2.8zM306.00 558.18h2.8v2.8h-2.8zM333.10 551.18h2.8v2.8h-2.8zM333.10 558.18h2.8v2.8h-2.8zM336.60 551.18h2.8v2.8h-2.8zM336.60 558.18h2.8v2.8h-2.8zM340.10 551.18h2.8v2.8h-2.8zM340.10 558.18h2.8v2.8h-2.8zM343.60 551.18h2.8v2.8h-2.8zM343.60 558.18h2.8v2.8h-2.8zM347.10 551.18h2.8v2.8h-2.8zM347.10 558.18h2.8v2.8h-2.8zM350.60 551.18h2.8v2.8h-2.8zM350.60 558.18h2.8v2.8h-2.8zM354.10 551.18h2.8v2.8h-2.8zM354.10 558.18h2.8v2.8h-2.8zM357.60 551.18h2.8v2.8h-2.8zM357.60 558.18h2.8v2.8h-2.8zM361.10 551.18h2.8v2.8h-2.8zM361.10 558.18h2.8v2.8h-2.8zM364.60 551.18h2.8v2.8h-2.8zM364.60 558.18h2.8v2.8h-2.8zM368.10 551.18h2.8v2.8h-2.8zM368.10 558.18h2.8v2.8h-2.8zM371.60 551.18h2.8v2.8h-2.8zM371.60 558.18h2.8v2.8h-2.8zM375.10 551.18h2.8v2.8h-2.8zM375.10 558.18h2.8v2.8h-2.8zM378.60 551.18h2.8v2.8h-2.8zM378.60 558.18h2.8v2.8h-2.8zM382.10 551.18h2.8v2.8h-2.8zM382.10 558.18h2.8v2.8h-2.8zM385.60 551.18h2.8v2.8h-2.8zM385.60 558.18h2.8v2.8h-2.8zM389.10 551.18h2.8v2.8h-2.8zM389.10 558.18h2.8v2.8h-2.8zM392.60 551.18h2.8v2.8h-2.8zM392.60 558.18h2.8v2.8h-2.8zM406.60 551.18h2.8v2.8h-2.8zM406.60 558.18h2.8v2.8h-2.8zM410.10 551.18h2.8v2.8h-2.8zM410.10 558.18h2.8v2.8h-2.8zM413.60 551.18h2.8v2.8h-2.8zM413.60 558.18h2.8v2.8h-2.8zM417.10 551.18h2.8v2.8h-2.8zM417.10 558.18h2.8v2.8h-2.8zM420.60 551.18h2.8v2.8h-2.8zM420.60 558.18h2.8v2.8h-2.8zM424.10 551.18h2.8v2.8h-2.8zM424.10 558.18h2.8v2.8h-2.8zM427.60 551.18h2.8v2.8h-2.8zM427.60 558.18h2.8v2.8h-2.8zM431.10 551.18h2.8v2.8h-2.8zM431.10 558.18h2.8v2.8h-2.8zM434.60 551.18h2.8v2.8h-2.8zM434.60 558.18h2.8v2.8h-2.8zM438.10 551.18h2.8v2.8h-2.8zM438.10 558.18h2.8v2.8h-2.8zM441.60 551.18h2.8v2.8h-2.8zM441.60 558.18h2.8v2.8h-2.8zM445.10 551.18h2.8v2.8h-2.8zM445.10 558.18h2.8v2.8h-2.8zM448.60 551.18h2.8v2.8h-2.8zM448.60 558.18h2.8v2.8h-2.8zM452.10 551.18h2.8v2.8h-2.8zM452.10 558.18h2.8v2.8h-2.8zM455.60 551.18h2.8v2.8h-2.8zM455.60 558.18h2.8v2.8h-2.8zM459.10 551.18h2.8v2.8h-2.8zM459.10 558.18h2.8v2.8h-2.8zM462.60 551.18h2.8v2.8h-2.8zM462.60 558.18h2.8v2.8h-2.8zM466.10 551.18h2.8v2.8h-2.8zM466.10 558.18h2.8v2.8h-2.8zM469.60 551.18h2.8v2.8h-2.8zM469.60 558.18h2.8v2.8h-2.8zM480.60 551.18h2.8v2.8h-2.8zM480.60 558.18h2.8v2.8h-2.8zM489.90 551.18h2.8v2.8h-2.8zM489.90 558.18h2.8v2.8h-2.8zM499.20 551.18h2.8v2.8h-2.8zM499.20 558.18h2.8v2.8h-2.8zM508.50 551.18h2.8v2.8h-2.8zM508.50 558.18h2.8v2.8h-2.8zM517.80 551.18h2.8v2.8h-2.8zM517.80 558.18h2.8v2.8h-2.8zM527.10 551.18h2.8v2.8h-2.8zM527.10 558.18h2.8v2.8h-2.8zM536.40 551.18h2.8v2.8h-2.8zM536.40 558.18h2.8v2.8h-2.8zM545.70 551.18h2.8v2.8h-2.8zM545.70 558.18h2.8v2.8h-2.8zM555.00 551.18h2.8v2.8h-2.8zM555.00 558.18h2.8v2.8h-2.8zM564.30 551.18h2.8v2.8h-2.8zM564.30 558.18h2.8v2.8h-2.8zM573.60 551.18h2.8v2.8h-2.8zM573.60 558.18h2.8v2.8h-2.8z" fill="#000" fill-opacity="0.12"/>
<path d="M263.80 17.00h1.6v1.6h-1.6zM267.60 17.00h1.6v1.6h-1.6zM289.20 17.00h1.6v1.6h-1.6zM292.50 17.00h1.6v1.6h-1.6zM462.80 17.00h1.6v1.6h-1.6zM466.30 17.00h1.6v1.6h-1.6zM479.50 17.00h1.6v1.6h-1.6zM483.00 17.00h1.6v1.6h-1.6zM486.50 17.00h1.6v1.6h-1.6zM490.00 17.00h1.6v1.6h-1.6zM493.50 17.00h1.6v1.6h-1.6zM497.00 17.00h1.6v1.6h-1.6zM311.90 37.80h1.6v1.6h-1.6zM479.50 38.50h1.6v1.6h-1.6zM483.00 38.50h1.6v1.6h-1.6zM486.50 38.50h1.6v1.6h-1.6zM287.20 58.46h1.6v1.6h-1.6zM290.70 58.46h1.6v1.6h-1.6zM294.20 58.46h1.6v1.6h-1.6zM297.70 58.46h1.6v1.6h-1.6zM301.20 58.46h1.6v1.6h-1.6zM309.20 58.46h1.6v1.6h-1.6zM312.70 58.46h1.6v1.6h-1.6zM316.20 58.46h1.6v1.6h-1.6zM446.10 52.40h1.6v1.6h-1.6zM446.10 58.20h1.6v1.6h-1.6zM458.20 58.46h1.6v1.6h-1.6zM461.70 58.46h1.6v1.6h-1.6zM465.20 58.46h1.6v1.6h-1.6zM468.70 58.46h1.6v1.6h-1.6zM472.20 58.46h1.6v1.6h-1.6zM475.70 58.46h1.6v1.6h-1.6zM479.20 58.46h1.6v1.6h-1.6zM482.70 58.46h1.6v1.6h-1.6zM486.20 58.46h1.6v1.6h-1.6zM292.20 79.69h1.6v1.6h-1.6zM295.70 79.69h1.6v1.6h-1.6zM299.20 79.69h1.6v1.6h-1.6zM302.70 79.69h1.6v1.6h-1.6zM375.60 79.40h1.6v1.6h-1.6zM391.50 79.40h1.6v1.6h-1.6zM451.20 79.69h1.6v1.6h-1.6zM454.70 79.69h1.6v1.6h-1.6zM458.20 79.69h1.6v1.6h-1.6zM461.70 79.69h1.6v1.6h-1.6zM465.20 79.69h1.6v1.6h-1.6zM468.70 79.69h1.6v1.6h-1.6zM472.20 79.69h1.6v1.6h-1.6zM475.70 79.69h1.6v1.6h-1.6zM479.20 79.69h1.6v1.6h-1.6zM306.20 93.52h1.6v1.6h-1.6zM306.20 100.52h1.6v1.6h-1.6zM309.70 93.52h1.6v1.6h-1.6zM309.70 100.52h1.6v1.6h-1.6zM453.70 100.20h1.6v1.6h-1.6zM457.70 100.20h1.6v1.6h-1.6zM391.50 121.00h1.6v1.6h-1.6zM355.70 135.18h1.6v1.6h-1.6zM355.70 142.18h1.6v1.6h-1.6zM359.20 135.18h1.6v1.6h-1.6zM359.20 142.18h1.6v1.6h-1.6zM362.70 135.18h1.6v1.6h-1.6zM362.70 142.18h1.6v1.6h-1.6zM366.20 135.18h1.6v1.6h-1.6zM366.20 142.18h1.6v1.6h-1.6zM369.70 135.18h1.6v1.6h-1.6zM369.70 142.18h1.6v1.6h-1.6zM373.20 135.18h1.6v1.6h-1.6zM373.20 142.18h1.6v1.6h-1.6zM376.70 135.18h1.6v1.6h-1.6zM376.70 142.18h1.6v1.6h-1.6zM380.20 135.18h1.6v1.6h-1.6zM380.20 142.18h1.6v1.6h-1.6zM383.70 135.18h1.6v1.6h-1.6zM383.70 142.18h1.6v1.6h-1.6zM387.20 135.18h1.6v1.6h-1.6zM387.20 142.18h1.6v1.6h-1.6zM390.70 135.18h1.6v1.6h-1.6zM390.70 142.18h1.6v1.6h-1.6zM329.70 156.01h1.6v1.6h-1.6zM329.70 163.01h1.6v1.6h-1.6zM333.20 156.01h1.6v1.6h-1.6zM333.20 163.01h1.6v1.6h-1.6zM336.70 156.01h1.6v1.6h-1.6zM336.70 163.01h1.6v1.6h-1.6zM340.20 156.01h1.6v1.6h-1.6zM340.20 163.01h1.6v1.6h-1.6zM343.70 156.01h1.6v1.6h-1.6zM343.70 163.01h1.6v1.6h-1.6zM347.20 156.01h1.6v1.6h-1.6zM347.20 163.01h1.6v1.6h-1.6zM350.70 156.01h1.6v1.6h-1.6zM350.70 163.01h1.6v1.6h-1.6zM364.20 156.01h1.6v1.6h-1.6zM364.20 163.01h1.6v1.6h-1.6zM367.70 156.01h1.6v1.6h-1.6zM367.70 163.01h1.6v1.6h-1.6zM371.20 156.01h1.6v1.6h-1.6zM371.20 163.01h1.6v1.6h-1.6zM374.70 156.01h1.6v1.6h-1.6zM374.70 163.01h1.6v1.6h-1.6zM378.20 156.01h1.6v1.6h-1.6zM378.20 163.01h1.6v1.6h-1.6zM381.70 156.01h1.6v1.6h-1.6zM381.70 163.01h1.6v1.6h-1.6zM385.20 156.01h1.6v1.6h-1.6zM385.20 163.01h1.6v1.6h-1.6zM388.70 156.01h1.6v1.6h-1.6zM388.70 163.01h1.6v1.6h-1.6zM392.20 156.01h1.6v1.6h-1.6zM392.20 163.01h1.6v1.6h-1.6zM395.70 156.01h1.6v1.6h-1.6zM395.70 163.01h1.6v1.6h-1.6zM399.20 156.01h1.6v1.6h-1.6zM399.20 163.01h1.6v1.6h-1.6zM322.20 176.84h1.6v1.6h-1.6zM322.20 183.84h1.6v1.6h-1.6zM325.70 176.84h1.6v1.6h-1.6zM325.70 183.84h1.6v1.6h-1.6zM329.20 176.84h1.6v1.6h-1.6zM329.20 183.84h1.6v1.6h-1.6zM332.70 176.84h1.6v1.6h-1.6zM332.70 183.84h1.6v1.6h-1.6zM336.20 176.84h1.6v1.6h-1.6zM336.20 183.84h1.6v1.6h-1.6zM339.70 176.84h1.6v1.6h-1.6zM339.70 183.84h1.6v1.6h-1.6zM343.20 176.84h1.6v1.6h-1.6zM343.20 183.84h1.6v1.6h-1.6zM356.70 176.84h1.6v1.6h-1.6zM356.70 183.84h1.6v1.6h-1.6zM360.20 176.84h1.6v1.6h-1.6zM360.20 183.84h1.6v1.6h-1.6zM363.70 176.84h1.6v1.6h-1.6zM363.70 183.84h1.6v1.6h-1.6zM367.20 176.84h1.6v1.6h-1.6zM367.20 183.84h1.6v1.6h-1.6zM370.70 176.84h1.6v1.6h-1.6zM370.70 183.84h1.6v1.6h-1.6zM374.20 176.84h1.6v1.6h-1.6zM374.20 183.84h1.6v1.6h-1.6zM377.70 176.84h1.6v1.6h-1.6zM377.70 183.84h1.6v1.6h-1.6zM381.20 176.84h1.6v1.6h-1.6zM381.20 183.84h1.6v1.6h-1.6zM384.70 176.84h1.6v1.6h-1.6zM384.70 183.84h1.6v1.6h-1.6zM388.20 176.84h1.6v1.6h-1.6zM388.20 183.84h1.6v1.6h-1.6zM391.70 176.84h1.6v1.6h-1.6zM391.70 183.84h1.6v1.6h-1.6zM395.20 176.84h1.6v1.6h-1.6zM395.20 183.84h1.6v1.6h-1.6zM398.70 176.84h1.6v1.6h-1.6zM398.70 183.84h1.6v1.6h-1.6zM402.20 176.84h1.6v1.6h-1.6zM402.20 183.84h1.6v1.6h-1.6zM405.70 176.84h1.6v1.6h-1.6zM405.70 183.84h1.6v1.6h-1.6zM302.40 204.20h1.6v1.6h-1.6zM314.70 197.67h1.6v1.6h-1.6zM314.70 204.67h1.6v1.6h-1.6zM318.20 197.67h1.6v1.6h-1.6zM318.20 204.67h1.6v1.6h-1.6zM331.20 197.67h1.6v1.6h-1.6zM331.20 204.67h1.6v1.6h-1.6zM334.70 197.67h1.6v1.6h-1.6zM334.70 204.67h1.6v1.6h-1.6zM338.20 197.67h1.6v1.6h-1.6zM338.20 204.67h1.6v1.6h-1.6zM341.70 197.67h1.6v1.6h-1.6zM341.70 204.67h1.6v1.6h-1.6zM349.20 197.67h1.6v1.6h-1.6zM349.20 204.67h1.6v1.6h-1.6zM352.70 197.67h1.6v1.6h-1.6zM352.70 204.67h1.6v1.6h-1.6zM356.20 197.67h1.6v1.6h-1.6zM356.20 204.67h1.6v1.6h-1.6zM359.70 197.67h1.6v1.6h-1.6zM359.70 204.67h1.6v1.6h-1.6zM363.20 197.67h1.6v1.6h-1.6zM363.20 204.67h1.6v1.6h-1.6zM366.70 197.67h1.6v1.6h-1.6zM366.70 204.67h1.6v1.6h-1.6zM370.20 197.67h1.6v1.6h-1.6zM370.20 204.67h1.6v1.6h-1.6zM373.70 197.67h1.6v1.6h-1.6zM373.70 204.67h1.6v1.6h-1.6zM377.20 197.67h1.6v1.6h-1.6zM377.20 204.67h1.6v1.6h-1.6zM384.20 197.67h1.6v1.6h-1.6zM384.20 204.67h1.6v1.6h-1.6zM387.70 197.67h1.6v1.6h-1.6zM387.70 204.67h1.6v1.6h-1.6zM391.20 197.67h1.6v1.6h-1.6zM391.20 204.67h1.6v1.6h-1.6zM394.70 197.67h1.6v1.6h-1.6zM394.70 204.67h1.6v1.6h-1.6zM398.20 197.67h1.6v1.6h-1.6zM398.20 204.67h1.6v1.6h-1.6zM401.70 197.67h1.6v1.6h-1.6zM401.70 204.67h1.6v1.6h-1.6zM405.20 197.67h1.6v1.6h-1.6zM405.20 204.67h1.6v1.6h-1.6zM426.40 204.50h1.6v1.6h-1.6zM429.80 204.50h1.6v1.6h-1.6zM257.20 218.50h1.6v1.6h-1.6zM257.20 225.50h1.6v1.6h-1.6zM260.70 218.50h1.6v1.6h-1.6zM260.70 225.50h1.6v1.6h-1.6zM264.20 218.50h1.6v1.6h-1.6zM264.20 225.50h1.6v1.6h-1.6zM267.70 218.50h1.6v1.6h-1.6zM267.70 225.50h1.6v1.6h-1.6zM271.20 218.50h1.6v1.6h-1.6zM271.20 225.50h1.6v1.6h-1.6zM274.70 218.50h1.6v1.6h-1.6zM274.70 225.50h1.6v1.6h-1.6zM278.20 218.50h1.6v1.6h-1.6zM278.20 225.50h1.6v1.6h-1.6zM281.70 218.50h1.6v1.6h-1.6zM281.70 225.50h1.6v1.6h-1.6zM285.20 218.50h1.6v1.6h-1.6zM285.20 225.50h1.6v1.6h-1.6zM414.70 218.50h1.6v1.6h-1.6zM414.70 225.50h1.6v1.6h-1.6zM418.20 218.50h1.6v1.6h-1.6zM418.20 225.50h1.6v1.6h-1.6zM421.70 218.50h1.6v1.6h-1.6zM421.70 225.50h1.6v1.6h-1.6zM425.20 218.50h1.6v1.6h-1.6zM425.20 225.50h1.6v1.6h-1.6zM428.70 218.50h1.6v1.6h-1.6zM428.70 225.50h1.6v1.6h-1.6zM432.20 218.50h1.6v1.6h-1.6zM432.20 225.50h1.6v1.6h-1.6zM435.70 218.50h1.6v1.6h-1.6zM435.70 225.50h1.6v1.6h-1.6zM439.20 218.50h1.6v1.6h-1.6zM439.20 225.50h1.6v1.6h-1.6zM446.20 218.50h1.6v1.6h-1.6zM446.20 225.50h1.6v1.6h-1.6zM449.70 218.50h1.6v1.6h-1.6zM449.70 225.50h1.6v1.6h-1.6zM453.20 218.50h1.6v1.6h-1.6zM453.20 225.50h1.6v1.6h-1.6zM456.70 218.50h1.6v1.6h-1.6zM456.70 225.50h1.6v1.6h-1.6zM241.70 239.33h1.6v1.6h-1.6zM241.70 246.33h1.6v1.6h-1.6zM245.20 239.33h1.6v1.6h-1.6zM245.20 246.33h1.6v1.6h-1.6zM258.00 239.33h1.6v1.6h-1.6zM258.00 246.33h1.6v1.6h-1.6zM261.50 239.33h1.6v1.6h-1.6zM261.50 246.33h1.6v1.6h-1.6zM265.00 239.33h1.6v1.6h-1.6zM265.00 246.33h1.6v1.6h-1.6zM268.50 239.33h1.6v1.6h-1.6zM268.50 246.33h1.6v1.6h-1.6zM272.00 239.33h1.6v1.6h-1.6zM272.00 246.33h1.6v1.6h-1.6zM275.50 239.33h1.6v1.6h-1.6zM275.50 246.33h1.6v1.6h-1.6zM279.00 239.33h1.6v1.6h-1.6zM279.00 246.33h1.6v1.6h-1.6zM282.50 239.33h1.6v1.6h-1.6zM282.50 246.33h1.6v1.6h-1.6zM286.00 239.33h1.6v1.6h-1.6zM286.00 246.33h1.6v1.6h-1.6zM289.50 239.33h1.6v1.6h-1.6zM289.50 246.33h1.6v1.6h-1.6zM293.00 239.33h1.6v1.6h-1.6zM293.00 246.33h1.6v1.6h-1.6zM296.50 239.33h1.6v1.6h-1.6zM296.50 246.33h1.6v1.6h-1.6zM300.00 239.33h1.6v1.6h-1.6zM300.00 246.33h1.6v1.6h-1.6zM303.50 239.33h1.6v1.6h-1.6zM303.50 246.33h1.6v1.6h-1.6zM307.00 239.33h1.6v1.6h-1.6zM307.00 246.33h1.6v1.6h-1.6zM310.50 239.33h1.6v1.6h-1.6zM310.50 246.33h1.6v1.6h-1.6zM314.00 239.33h1.6v1.6h-1.6zM314.00 246.33h1.6v1.6h-1.6zM317.50 239.33h1.6v1.6h-1.6zM317.50 246.33h1.6v1.6h-1.6zM345.20 246.50h1.6v1.6h-1.6zM385.20 239.33h1.6v1.6h-1.6zM385.20 246.33h1.6v1.6h-1.6zM388.70 239.33h1.6v1.6h-1.6zM388.70 246.33h1.6v1.6h-1.6zM392.20 239.33h1.6v1.6h-1.6zM392.20 246.33h1.6v1.6h-1.6zM395.70 239.33h1.6v1.6h-1.6zM395.70 246.33h1.6v1.6h-1.6zM399.20 239.33h1.6v1.6h-1.6zM399.20 246.33h1.6v1.6h-1.6zM402.70 239.33h1.6v1.6h-1.6zM402.70 246.33h1.6v1.6h-1.6zM406.20 239.33h1.6v1.6h-1.6zM406.20 246.33h1.6v1.6h-1.6zM409.70 239.33h1.6v1.6h-1.6zM409.70 246.33h1.6v1.6h-1.6zM413.20 239.33h1.6v1.6h-1.6zM413.20 246.33h1.6v1.6h-1.6zM416.70 239.33h1.6v1.6h-1.6zM416.70 246.33h1.6v1.6h-1.6zM420.20 239.33h1.6v1.6h-1.6zM420.20 246.33h1.6v1.6h-1.6zM423.70 239.33h1.6v1.6h-1.6zM423.70 246.33h1.6v1.6h-1.6zM427.20 239.33h1.6v1.6h-1.6zM427.20 246.33h1.6v1.6h-1.6zM430.70 239.33h1.6v1.6h-1.6zM430.70 246.33h1.6v1.6h-1.6zM434.20 239.33h1.6v1.6h-1.6zM434.20 246.33h1.6v1.6h-1.6zM437.70 239.33h1.6v1.6h-1.6zM437.70 246.33h1.6v1.6h-1.6zM441.20 239.33h1.6v1.6h-1.6zM441.20 246.33h1.6v1.6h-1.6zM448.70 239.33h1.6v1.6h-1.6zM448.70 246.33h1.6v1.6h-1.6zM452.20 239.33h1.6v1.6h-1.6zM452.20 246.33h1.6v1.6h-1.6zM455.70 239.33h1.6v1.6h-1.6zM455.70 246.33h1.6v1.6h-1.6zM459.20 239.33h1.6v1.6h-1.6zM459.20 246.33h1.6v1.6h-1.6zM462.70 239.33h1.6v1.6h-1.6zM462.70 246.33h1.6v1.6h-1.6zM466.20 239.33h1.6v1.6h-1.6zM466.20 246.33h1.6v1.6h-1.6zM243.20 260.20h1.6v1.6h-1.6zM243.20 267.20h1.6v1.6h-1.6zM250.70 260.16h1.6v1.6h-1.6zM250.70 267.16h1.6v1.6h-1.6zM254.20 260.16h1.6v1.6h-1.6zM254.20 267.16h1.6v1.6h-1.6zM257.70 260.16h1.6v1.6h-1.6zM257.70 267.16h1.6v1.6h-1.6zM261.20 260.16h1.6v1.6h-1.6zM261.20 267.16h1.6v1.6h-1.6zM264.70 260.16h1.6v1.6h-1.6zM264.70 267.16h1.6v1.6h-1.6zM268.20 260.16h1.6v1.6h-1.6zM268.20 267.16h1.6v1.6h-1.6zM271.70 260.16h1.6v1.6h-1.6zM271.70 267.16h1.6v1.6h-1.6zM275.20 260.16h1.6v1.6h-1.6zM275.20 267.16h1.6v1.6h-1.6zM278.70 260.16h1.6v1.6h-1.6zM278.70 267.16h1.6v1.6h-1.6zM282.20 260.16h1.6v1.6h-1.6zM282.20 267.16h1.6v1.6h-1.6zM285.70 260.16h1.6v1.6h-1.6zM285.70 267.16h1.6v1.6h-1.6zM289.20 260.16h1.6v1.6h-1.6zM289.20 267.16h1.6v1.6h-1.6zM292.70 260.16h1.6v1.6h-1.6zM292.70 267.16h1.6v1.6h-1.6zM296.20 260.16h1.6v1.6h-1.6zM296.20 267.16h1.6v1.6h-1.6zM299.70 260.16h1.6v1.6h-1.6zM299.70 267.16h1.6v1.6h-1.6zM303.20 260.16h1.6v1.6h-1.6zM303.20 267.16h1.6v1.6h-1.6zM306.70 260.16h1.6v1.6h-1.6zM306.70 267.16h1.6v1.6h-1.6zM310.20 260.16h1.6v1.6h-1.6zM310.20 267.16h1.6v1.6h-1.6zM313.70 260.16h1.6v1.6h-1.6zM313.70 267.16h1.6v1.6h-1.6zM317.20 260.16h1.6v1.6h-1.6zM317.20 267.16h1.6v1.6h-1.6zM320.70 260.16h1.6v1.6h-1.6zM320.70 267.16h1.6v1.6h-1.6zM324.20 260.16h1.6v1.6h-1.6zM324.20 267.16h1.6v1.6h-1.6zM327.70 260.16h1.6v1.6h-1.6zM327.70 267.16h1.6v1.6h-1.6zM331.20 260.16h1.6v1.6h-1.6zM331.20 267.16h1.6v1.6h-1.6zM334.70 260.16h1.6v1.6h-1.6zM334.70 267.16h1.6v1.6h-1.6zM365.70 260.16h1.6v1.6h-1.6zM365.70 267.16h1.6v1.6h-1.6zM369.20 260.16h1.6v1.6h-1.6zM369.20 267.16h1.6v1.6h-1.6zM372.70 260.16h1.6v1.6h-1.6zM372.70 267.16h1.6v1.6h-1.6zM376.20 260.16h1.6v1.6h-1.6zM376.20 267.16h1.6v1.6h-1.6zM379.70 260.16h1.6v1.6h-1.6zM379.70 267.16h1.6v1.6h-1.6zM383.20 260.16h1.6v1.6h-1.6zM383.20 267.16h1.6v1.6h-1.6zM386.70 260.16h1.6v1.6h-1.6zM386.70 267.16h1.6v1.6h-1.6zM390.20 260.16h1.6v1.6h-1.6zM390.20 267.16h1.6v1.6h-1.6zM393.70 260.16h1.6v1.6h-1.6zM393.70 267.16h1.6v1.6h-1.6zM397.20 260.16h1.6v1.6h-1.6zM397.20 267.16h1.6v1.6h-1.6zM400.70 260.16h1.6v1.6h-1.6zM400.70 267.16h1.6v1.6h-1.6zM404.20 260.16h1.6v1.6h-1.6zM404.20 267.16h1.6v1.6h-1.6zM407.70 260.16h1.6v1.6h-1.6zM407.70 267.16h1.6v1.6h-1.6zM411.20 260.16h1.6v1.6h-1.6zM411.20 267.16h1.6v1.6h-1.6zM414.70 260.16h1.6v1.6h-1.6zM414.70 267.16h1.6v1.6h-1.6zM418.20 260.16h1.6v1.6h-1.6zM418.20 267.16h1.6v1.6h-1.6zM421.70 260.16h1.6v1.6h-1.6zM421.70 267.16h1.6v1.6h-1.6zM425.20 260.16h1.6v1.6h-1.6zM425.20 267.16h1.6v1.6h-1.6zM428.70 260.16h1.6v1.6h-1.6zM428.70 267.16h1.6v1.6h-1.6zM432.20 260.16h1.6v1.6h-1.6zM432.20 267.16h1.6v1.6h-1.6zM448.20 260.16h1.6v1.6h-1.6zM448.20 267.16h1.6v1.6h-1.6zM451.70 260.16h1.6v1.6h-1.6zM451.70 267.16h1.6v1.6h-1.6zM455.20 260.16h1.6v1.6h-1.6zM455.20 267.16h1.6v1.6h-1.6zM458.70 260.16h1.6v1.6h-1.6zM458.70 267.16h1.6v1.6h-1.6zM462.20 260.16h1.6v1.6h-1.6zM462.20 267.16h1.6v1.6h-1.6zM465.70 260.16h1.6v1.6h-1.6zM465.70 267.16h1.6v1.6h-1.6zM469.20 260.16h1.6v1.6h-1.6zM469.20 267.16h1.6v1.6h-1.6zM255.70 280.99h1.6v1.6h-1.6zM255.70 287.99h1.6v1.6h-1.6zM259.20 280.99h1.6v1.6h-1.6zM259.20 287.99h1.6v1.6h-1.6zM262.70 280.99h1.6v1.6h-1.6zM262.70 287.99h1.6v1.6h-1.6zM266.20 280.99h1.6v1.6h-1.6zM266.20 287.99h1.6v1.6h-1.6zM269.70 280.99h1.6v1.6h-1.6zM269.70 287.99h1.6v1.6h-1.6zM273.20 280.99h1.6v1.6h-1.6zM273.20 287.99h1.6v1.6h-1.6zM276.70 280.99h1.6v1.6h-1.6zM276.70 287.99h1.6v1.6h-1.6zM280.20 280.99h1.6v1.6h-1.6zM280.20 287.99h1.6v1.6h-1.6zM283.70 280.99h1.6v1.6h-1.6zM283.70 287.99h1.6v1.6h-1.6zM287.20 280.99h1.6v1.6h-1.6zM287.20 287.99h1.6v1.6h-1.6zM290.70 280.99h1.6v1.6h-1.6zM290.70 287.99h1.6v1.6h-1.6zM294.20 280.99h1.6v1.6h-1.6zM294.20 287.99h1.6v1.6h-1.6zM297.70 280.99h1.6v1.6h-1.6zM297.70 287.99h1.6v1.6h-1.6zM301.20 280.99h1.6v1.6h-1.6zM301.20 287.99h1.6v1.6h-1.6zM304.70 280.99h1.6v1.6h-1.6zM304.70 287.99h1.6v1.6h-1.6zM308.20 280.99h1.6v1.6h-1.6zM308.20 287.99h1.6v1.6h-1.6zM311.70 280.99h1.6v1.6h-1.6zM311.70 287.99h1.6v1.6h-1.6zM315.20 280.99h1.6v1.6h-1.6zM315.20 287.99h1.6v1.6h-1.6zM318.70 280.99h1.6v1.6h-1.6zM318.70 287.99h1.6v1.6h-1.6zM322.20 280.99h1.6v1.6h-1.6zM322.20 287.99h1.6v1.6h-1.6zM325.70 280.99h1.6v1.6h-1.6zM325.70 287.99h1.6v1.6h-1.6zM329.20 280.99h1.6v1.6h-1.6zM329.20 287.99h1.6v1.6h-1.6zM332.70 280.99h1.6v1.6h-1.6zM332.70 287.99h1.6v1.6h-1.6zM336.20 280.99h1.6v1.6h-1.6zM336.20 287.99h1.6v1.6h-1.6zM339.70 280.99h1.6v1.6h-1.6zM339.70 287.99h1.6v1.6h-1.6zM343.20 280.99h1.6v1.6h-1.6zM343.20 287.99h1.6v1.6h-1.6zM364.20 280.99h1.6v1.6h-1.6zM364.20 287.99h1.6v1.6h-1.6zM367.70 280.99h1.6v1.6h-1.6zM367.70 287.99h1.6v1.6h-1.6zM371.20 280.99h1.6v1.6h-1.6zM371.20 287.99h1.6v1.6h-1.6zM374.70 280.99h1.6v1.6h-1.6zM374.70 287.99h1.6v1.6h-1.6zM378.20 280.99h1.6v1.6h-1.6zM378.20 287.99h1.6v1.6h-1.6zM381.70 280.99h1.6v1.6h-1.6zM381.70 287.99h1.6v1.6h-1.6zM385.20 280.99h1.6v1.6h-1.6zM385.20 287.99h1.6v1.6h-1.6zM388.70 280.99h1.6v1.6h-1.6zM388.70 287.99h1.6v1.6h-1.6zM392.20 280.99h1.6v1.6h-1.6zM392.20 287.99h1.6v1.6h-1.6zM395.70 280.99h1.6v1.6h-1.6zM395.70 287.99h1.6v1.6h-1.6zM399.20 280.99h1.6v1.6h-1.6zM399.20 287.99h1.6v1.6h-1.6zM402.70 280.99h1.6v1.6h-1.6zM402.70 287.99h1.6v1.6h-1.6zM406.20 280.99h1.6v1.6h-1.6zM406.20 287.99h1.6v1.6h-1.6zM409.70 280.99h1.6v1.6h-1.6zM409.70 287.99h1.6v1.6h-1.6zM413.20 280.99h1.6v1.6h-1.6zM413.20 287.99h1.6v1.6h-1.6zM416.70 280.99h1.6v1.6h-1.6zM416.70 287.99h1.6v1.6h-1.6zM420.20 280.99h1.6v1.6h-1.6zM420.20 287.99h1.6v1.6h-1.6zM423.70 280.99h1.6v1.6h-1.6zM423.70 287.99h1.6v1.6h-1.6zM427.20 280.99h1.6v1.6h-1.6zM427.20 287.99h1.6v1.6h-1.6zM439.70 280.99h1.6v1.6h-1.6zM439.70 287.99h1.6v1.6h-1.6zM443.20 280.99h1.6v1.6h-1.6zM443.20 287.99h1.6v1.6h-1.6zM446.70 280.99h1.6v1.6h-1.6zM446.70 287.99h1.6v1.6h-1.6zM450.20 280.99h1.6v1.6h-1.6zM450.20 287.99h1.6v1.6h-1.6zM453.70 280.99h1.6v1.6h-1.6zM453.70 287.99h1.6v1.6h-1.6zM457.20 280.99h1.6v1.6h-1.6zM457.20 287.99h1.6v1.6h-1.6zM317.20 364.31h1.6v1.6h-1.6zM317.20 371.31h1.6v1.6h-1.6zM320.70 364.31h1.6v1.6h-1.6zM320.70 371.31h1.6v1.6h-1.6zM324.20 364.31h1.6v1.6h-1.6zM324.20 371.31h1.6v1.6h-1.6zM327.70 364.31h1.6v1.6h-1.6zM327.70 371.31h1.6v1.6h-1.6zM331.20 364.31h1.6v1.6h-1.6zM331.20 371.31h1.6v1.6h-1.6zM361.70 364.31h1.6v1.6h-1.6zM361.70 371.31h1.6v1.6h-1.6zM365.20 364.31h1.6v1.6h-1.6zM365.20 371.31h1.6v1.6h-1.6zM368.70 364.31h1.6v1.6h-1.6zM368.70 371.31h1.6v1.6h-1.6zM372.20 364.31h1.6v1.6h-1.6zM372.20 371.31h1.6v1.6h-1.6zM375.70 364.31h1.6v1.6h-1.6zM375.70 371.31h1.6v1.6h-1.6zM379.20 364.31h1.6v1.6h-1.6zM379.20 371.31h1.6v1.6h-1.6zM382.70 364.31h1.6v1.6h-1.6zM382.70 371.31h1.6v1.6h-1.6zM386.20 364.31h1.6v1.6h-1.6zM386.20 371.31h1.6v1.6h-1.6zM389.70 364.31h1.6v1.6h-1.6zM389.70 371.31h1.6v1.6h-1.6zM393.20 364.31h1.6v1.6h-1.6zM393.20 371.31h1.6v1.6h-1.6zM396.70 364.31h1.6v1.6h-1.6zM396.70 371.31h1.6v1.6h-1.6zM299.70 385.14h1.6v1.6h-1.6zM299.70 392.14h1.6v1.6h-1.6zM303.20 385.14h1.6v1.6h-1.6zM303.20 392.14h1.6v1.6h-1.6zM306.70 385.14h1.6v1.6h-1.6zM306.70 392.14h1.6v1.6h-1.6zM310.20 385.14h1.6v1.6h-1.6zM310.20 392.14h1.6v1.6h-1.6zM313.70 385.14h1.6v1.6h-1.6zM313.70 392.14h1.6v1.6h-1.6zM317.20 385.14h1.6v1.6h-1.6zM317.20 392.14h1.6v1.6h-1.6zM320.70 385.14h1.6v1.6h-1.6zM320.70 392.14h1.6v1.6h-1.6zM324.20 385.14h1.6v1.6h-1.6zM324.20 392.14h1.6v1.6h-1.6zM327.70 385.14h1.6v1.6h-1.6zM327.70 392.14h1.6v1.6h-1.6zM331.20 385.14h1.6v1.6h-1.6zM331.20 392.14h1.6v1.6h-1.6zM334.70 385.14h1.6v1.6h-1.6zM334.70 392.14h1.6v1.6h-1.6zM338.20 385.14h1.6v1.6h-1.6zM338.20 392.14h1.6v1.6h-1.6zM341.70 385.14h1.6v1.6h-1.6zM341.70 392.14h1.6v1.6h-1.6zM345.20 385.14h1.6v1.6h-1.6zM345.20 392.14h1.6v1.6h-1.6zM348.70 385.14h1.6v1.6h-1.6zM348.70 392.14h1.6v1.6h-1.6zM352.20 385.14h1.6v1.6h-1.6zM352.20 392.14h1.6v1.6h-1.6zM358.70 385.14h1.6v1.6h-1.6zM358.70 392.14h1.6v1.6h-1.6zM362.20 385.14h1.6v1.6h-1.6zM362.20 392.14h1.6v1.6h-1.6zM309.70 405.97h1.6v1.6h-1.6zM309.70 412.97h1.6v1.6h-1.6zM313.20 405.97h1.6v1.6h-1.6zM313.20 412.97h1.6v1.6h-1.6zM316.70 405.97h1.6v1.6h-1.6zM316.70 412.97h1.6v1.6h-1.6zM320.20 405.97h1.6v1.6h-1.6zM320.20 412.97h1.6v1.6h-1.6zM323.70 405.97h1.6v1.6h-1.6zM323.70 412.97h1.6v1.6h-1.6zM451.10 412.80h1.6v1.6h-1.6zM469.70 405.97h1.6v1.6h-1.6zM469.70 412.97h1.6v1.6h-1.6zM473.20 405.97h1.6v1.6h-1.6zM473.20 412.97h1.6v1.6h-1.6zM476.70 405.97h1.6v1.6h-1.6zM476.70 412.97h1.6v1.6h-1.6zM480.20 405.97h1.6v1.6h-1.6zM480.20 412.97h1.6v1.6h-1.6zM436.20 426.80h1.6v1.6h-1.6zM436.20 433.80h1.6v1.6h-1.6zM439.70 426.80h1.6v1.6h-1.6zM439.70 433.80h1.6v1.6h-1.6zM443.20 426.80h1.6v1.6h-1.6zM443.20 433.80h1.6v1.6h-1.6zM446.70 426.80h1.6v1.6h-1.6zM446.70 433.80h1.6v1.6h-1.6zM450.20 426.80h1.6v1.6h-1.6zM450.20 433.80h1.6v1.6h-1.6zM453.70 426.80h1.6v1.6h-1.6zM453.70 433.80h1.6v1.6h-1.6zM457.20 426.80h1.6v1.6h-1.6zM457.20 433.80h1.6v1.6h-1.6zM460.70 426.80h1.6v1.6h-1.6zM460.70 433.80h1.6v1.6h-1.6zM464.20 426.80h1.6v1.6h-1.6zM464.20 433.80h1.6v1.6h-1.6zM467.70 426.80h1.6v1.6h-1.6zM467.70 433.80h1.6v1.6h-1.6zM471.20 426.80h1.6v1.6h-1.6zM471.20 433.80h1.6v1.6h-1.6zM474.70 426.80h1.6v1.6h-1.6zM474.70 433.80h1.6v1.6h-1.6zM478.20 426.80h1.6v1.6h-1.6zM478.20 433.80h1.6v1.6h-1.6zM398.40 433.70h1.6v1.6h-1.6zM401.90 433.70h1.6v1.6h-1.6zM347.70 453.70h1.6v1.6h-1.6zM351.20 453.70h1.6v1.6h-1.6zM354.70 453.70h1.6v1.6h-1.6zM391.70 447.63h1.6v1.6h-1.6zM391.70 454.63h1.6v1.6h-1.6zM395.20 447.63h1.6v1.6h-1.6zM395.20 454.63h1.6v1.6h-1.6zM398.70 447.63h1.6v1.6h-1.6zM398.70 454.63h1.6v1.6h-1.6zM402.20 447.63h1.6v1.6h-1.6zM402.20 454.63h1.6v1.6h-1.6zM405.70 447.63h1.6v1.6h-1.6zM405.70 454.63h1.6v1.6h-1.6zM409.20 447.63h1.6v1.6h-1.6zM409.20 454.63h1.6v1.6h-1.6zM412.70 447.63h1.6v1.6h-1.6zM412.70 454.63h1.6v1.6h-1.6zM416.20 447.63h1.6v1.6h-1.6zM416.20 454.63h1.6v1.6h-1.6zM419.70 447.63h1.6v1.6h-1.6zM419.70 454.63h1.6v1.6h-1.6zM423.20 447.63h1.6v1.6h-1.6zM423.20 454.63h1.6v1.6h-1.6zM426.70 447.63h1.6v1.6h-1.6zM426.70 454.63h1.6v1.6h-1.6zM430.20 447.63h1.6v1.6h-1.6zM430.20 454.63h1.6v1.6h-1.6zM433.70 447.63h1.6v1.6h-1.6zM433.70 454.63h1.6v1.6h-1.6zM437.20 447.63h1.6v1.6h-1.6zM437.20 454.63h1.6v1.6h-1.6zM440.70 447.63h1.6v1.6h-1.6zM440.70 454.63h1.6v1.6h-1.6zM444.20 447.63h1.6v1.6h-1.6zM444.20 454.63h1.6v1.6h-1.6zM447.70 447.63h1.6v1.6h-1.6zM447.70 454.63h1.6v1.6h-1.6zM451.20 447.63h1.6v1.6h-1.6zM451.20 454.63h1.6v1.6h-1.6zM454.70 447.63h1.6v1.6h-1.6zM454.70 454.63h1.6v1.6h-1.6zM458.20 447.63h1.6v1.6h-1.6zM458.20 454.63h1.6v1.6h-1.6zM461.70 447.63h1.6v1.6h-1.6zM461.70 454.63h1.6v1.6h-1.6zM465.20 447.63h1.6v1.6h-1.6zM465.20 454.63h1.6v1.6h-1.6zM468.70 447.63h1.6v1.6h-1.6zM468.70 454.63h1.6v1.6h-1.6zM472.20 447.63h1.6v1.6h-1.6zM472.20 454.63h1.6v1.6h-1.6zM475.70 447.63h1.6v1.6h-1.6zM475.70 454.63h1.6v1.6h-1.6zM479.20 447.63h1.6v1.6h-1.6zM479.20 454.63h1.6v1.6h-1.6zM482.70 447.63h1.6v1.6h-1.6zM482.70 454.63h1.6v1.6h-1.6zM486.20 447.63h1.6v1.6h-1.6zM486.20 454.63h1.6v1.6h-1.6zM489.70 447.63h1.6v1.6h-1.6zM489.70 454.63h1.6v1.6h-1.6zM493.20 447.63h1.6v1.6h-1.6zM493.20 454.63h1.6v1.6h-1.6zM496.70 447.63h1.6v1.6h-1.6zM496.70 454.63h1.6v1.6h-1.6zM500.20 447.63h1.6v1.6h-1.6zM500.20 454.63h1.6v1.6h-1.6zM503.70 447.63h1.6v1.6h-1.6zM503.70 454.63h1.6v1.6h-1.6zM507.20 447.63h1.6v1.6h-1.6zM507.20 454.63h1.6v1.6h-1.6zM510.70 447.63h1.6v1.6h-1.6zM510.70 454.63h1.6v1.6h-1.6zM514.20 447.63h1.6v1.6h-1.6zM514.20 454.63h1.6v1.6h-1.6zM517.70 447.63h1.6v1.6h-1.6zM517.70 454.63h1.6v1.6h-1.6zM345.70 468.46h1.6v1.6h-1.6zM345.70 475.46h1.6v1.6h-1.6zM349.20 468.46h1.6v1.6h-1.6zM349.20 475.46h1.6v1.6h-1.6zM352.70 468.46h1.6v1.6h-1.6zM352.70 475.46h1.6v1.6h-1.6zM356.20 468.46h1.6v1.6h-1.6zM356.20 475.46h1.6v1.6h-1.6zM359.70 468.46h1.6v1.6h-1.6zM359.70 475.46h1.6v1.6h-1.6zM363.20 468.46h1.6v1.6h-1.6zM363.20 475.46h1.6v1.6h-1.6zM366.70 468.46h1.6v1.6h-1.6zM366.70 475.46h1.6v1.6h-1.6zM370.20 468.46h1.6v1.6h-1.6zM370.20 475.46h1.6v1.6h-1.6zM373.70 468.46h1.6v1.6h-1.6zM373.70 475.46h1.6v1.6h-1.6zM377.20 468.46h1.6v1.6h-1.6zM377.20 475.46h1.6v1.6h-1.6zM380.70 468.46h1.6v1.6h-1.6zM380.70 475.46h1.6v1.6h-1.6zM384.20 468.46h1.6v1.6h-1.6zM384.20 475.46h1.6v1.6h-1.6zM391.70 468.46h1.6v1.6h-1.6zM391.70 475.46h1.6v1.6h-1.6zM395.20 468.46h1.6v1.6h-1.6zM395.20 475.46h1.6v1.6h-1.6zM398.70 468.46h1.6v1.6h-1.6zM398.70 475.46h1.6v1.6h-1.6zM402.20 468.46h1.6v1.6h-1.6zM402.20 475.46h1.6v1.6h-1.6zM405.70 468.46h1.6v1.6h-1.6zM405.70 475.46h1.6v1.6h-1.6zM409.20 468.46h1.6v1.6h-1.6zM409.20 475.46h1.6v1.6h-1.6zM412.70 468.46h1.6v1.6h-1.6zM412.70 475.46h1.6v1.6h-1.6zM416.20 468.46h1.6v1.6h-1.6zM416.20 475.46h1.6v1.6h-1.6zM419.70 468.46h1.6v1.6h-1.6zM419.70 475.46h1.6v1.6h-1.6zM423.20 468.46h1.6v1.6h-1.6zM423.20 475.46h1.6v1.6h-1.6zM426.70 468.46h1.6v1.6h-1.6zM426.70 475.46h1.6v1.6h-1.6zM430.20 468.46h1.6v1.6h-1.6zM430.20 475.46h1.6v1.6h-1.6zM433.70 468.46h1.6v1.6h-1.6zM433.70 475.46h1.6v1.6h-1.6zM437.20 468.46h1.6v1.6h-1.6zM437.20 475.46h1.6v1.6h-1.6zM440.70 468.46h1.6v1.6h-1.6zM440.70 475.46h1.6v1.6h-1.6zM444.20 468.46h1.6v1.6h-1.6zM444.20 475.46h1.6v1.6h-1.6zM447.70 468.46h1.6v1.6h-1.6zM447.70 475.46h1.6v1.6h-1.6zM451.20 468.46h1.6v1.6h-1.6zM451.20 475.46h1.6v1.6h-1.6zM454.70 468.46h1.6v1.6h-1.6zM454.70 475.46h1.6v1.6h-1.6zM458.20 468.46h1.6v1.6h-1.6zM458.20 475.46h1.6v1.6h-1.6zM461.70 468.46h1.6v1.6h-1.6zM461.70 475.46h1.6v1.6h-1.6zM465.20 468.46h1.6v1.6h-1.6zM465.20 475.46h1.6v1.6h-1.6zM468.70 468.46h1.6v1.6h-1.6zM468.70 475.46h1.6v1.6h-1.6zM472.20 468.46h1.6v1.6h-1.6zM472.20 475.46h1.6v1.6h-1.6zM475.70 468.46h1.6v1.6h-1.6zM475.70 475.46h1.6v1.6h-1.6zM479.20 468.46h1.6v1.6h-1.6zM479.20 475.46h1.6v1.6h-1.6zM482.70 468.46h1.6v1.6h-1.6zM482.70 475.46h1.6v1.6h-1.6zM486.20 468.46h1.6v1.6h-1.6zM486.20 475.46h1.6v1.6h-1.6zM489.70 468.46h1.6v1.6h-1.6zM489.70 475.46h1.6v1.6h-1.6zM493.20 468.46h1.6v1.6h-1.6zM493.20 475.46h1.6v1.6h-1.6zM496.70 468.46h1.6v1.6h-1.6zM496.70 475.46h1.6v1.6h-1.6zM500.20 468.46h1.6v1.6h-1.6zM500.20 475.46h1.6v1.6h-1.6zM503.70 468.46h1.6v1.6h-1.6zM503.70 475.46h1.6v1.6h-1.6zM331.20 489.29h1.6v1.6h-1.6zM331.20 496.29h1.6v1.6h-1.6zM334.70 489.29h1.6v1.6h-1.6zM334.70 496.29h1.6v1.6h-1.6zM338.20 489.29h1.6v1.6h-1.6zM338.20 496.29h1.6v1.6h-1.6zM341.70 489.29h1.6v1.6h-1.6zM341.70 496.29h1.6v1.6h-1.6zM345.20 489.29h1.6v1.6h-1.6zM345.20 496.29h1.6v1.6h-1.6zM348.70 489.29h1.6v1.6h-1.6zM348.70 496.29h1.6v1.6h-1.6zM352.20 489.29h1.6v1.6h-1.6zM352.20 496.29h1.6v1.6h-1.6zM355.70 489.29h1.6v1.6h-1.6zM355.70 496.29h1.6v1.6h-1.6zM359.20 489.29h1.6v1.6h-1.6zM359.20 496.29h1.6v1.6h-1.6zM362.70 489.29h1.6v1.6h-1.6zM362.70 496.29h1.6v1.6h-1.6zM366.20 489.29h1.6v1.6h-1.6zM366.20 496.29h1.6v1.6h-1.6zM369.70 489.29h1.6v1.6h-1.6zM369.70 496.29h1.6v1.6h-1.6zM373.20 489.29h1.6v1.6h-1.6zM373.20 496.29h1.6v1.6h-1.6zM376.70 489.29h1.6v1.6h-1.6zM376.70 496.29h1.6v1.6h-1.6zM380.20 489.29h1.6v1.6h-1.6zM380.20 496.29h1.6v1.6h-1.6zM383.70 489.29h1.6v1.6h-1.6zM383.70 496.29h1.6v1.6h-1.6zM391.70 489.29h1.6v1.6h-1.6zM391.70 496.29h1.6v1.6h-1.6zM395.20 489.29h1.6v1.6h-1.6zM395.20 496.29h1.6v1.6h-1.6zM398.70 489.29h1.6v1.6h-1.6zM398.70 496.29h1.6v1.6h-1.6zM402.20 489.29h1.6v1.6h-1.6zM402.20 496.29h1.6v1.6h-1.6zM405.70 489.29h1.6v1.6h-1.6zM405.70 496.29h1.6v1.6h-1.6zM409.20 489.29h1.6v1.6h-1.6zM409.20 496.29h1.6v1.6h-1.6zM412.70 489.29h1.6v1.6h-1.6zM412.70 496.29h1.6v1.6h-1.6zM416.20 489.29h1.6v1.6h-1.6zM416.20 496.29h1.6v1.6h-1.6zM419.70 489.29h1.6v1.6h-1.6zM419.70 496.29h1.6v1.6h-1.6zM423.20 489.29h1.6v1.6h-1.6zM423.20 496.29h1.6v1.6h-1.6zM426.70 489.29h1.6v1.6h-1.6zM426.70 496.29h1.6v1.6h-1.6zM430.20 489.29h1.6v1.6h-1.6zM430.20 496.29h1.6v1.6h-1.6zM433.70 489.29h1.6v1.6h-1.6zM433.70 496.29h1.6v1.6h-1.6zM437.20 489.29h1.6v1.6h-1.6zM437.20 496.29h1.6v1.6h-1.6zM440.70 489.29h1.6v1.6h-1.6zM440.70 496.29h1.6v1.6h-1.6zM444.20 489.29h1.6v1.6h-1.6zM444.20 496.29h1.6v1.6h-1.6zM447.70 489.29h1.6v1.6h-1.6zM447.70 496.29h1.6v1.6h-1.6zM451.20 489.29h1.6v1.6h-1.6zM451.20 496.29h1.6v1.6h-1.6zM454.70 489.29h1.6v1.6h-1.6zM454.70 496.29h1.6v1.6h-1.6zM458.20 489.29h1.6v1.6h-1.6zM458.20 496.29h1.6v1.6h-1.6zM461.70 489.29h1.6v1.6h-1.6zM461.70 496.29h1.6v1.6h-1.6zM465.20 489.29h1.6v1.6h-1.6zM465.20 496.29h1.6v1.6h-1.6zM468.70 489.29h1.6v1.6h-1.6zM468.70 496.29h1.6v1.6h-1.6zM472.20 489.29h1.6v1.6h-1.6zM472.20 496.29h1.6v1.6h-1.6zM475.70 489.29h1.6v1.6h-1.6zM475.70 496.29h1.6v1.6h-1.6zM479.20 489.29h1.6v1.6h-1.6zM479.20 496.29h1.6v1.6h-1.6zM482.70 489.29h1.6v1.6h-1.6zM482.70 496.29h1.6v1.6h-1.6zM486.20 489.29h1.6v1.6h-1.6zM486.20 496.29h1.6v1.6h-1.6zM489.70 489.29h1.6v1.6h-1.6zM489.70 496.29h1.6v1.6h-1.6zM493.20 489.29h1.6v1.6h-1.6zM493.20 496.29h1.6v1.6h-1.6zM514.20 489.29h1.6v1.6h-1.6zM514.20 496.29h1.6v1.6h-1.6zM523.50 489.29h1.6v1.6h-1.6zM523.50 496.29h1.6v1.6h-1.6zM532.80 489.29h1.6v1.6h-1.6zM532.80 496.29h1.6v1.6h-1.6zM542.10 489.29h1.6v1.6h-1.6zM542.10 496.29h1.6v1.6h-1.6zM551.40 489.29h1.6v1.6h-1.6zM551.40 496.29h1.6v1.6h-1.6zM329.20 510.12h1.6v1.6h-1.6zM329.20 517.12h1.6v1.6h-1.6zM332.70 510.12h1.6v1.6h-1.6zM332.70 517.12h1.6v1.6h-1.6zM336.20 510.12h1.6v1.6h-1.6zM336.20 517.12h1.6v1.6h-1.6zM339.70 510.12h1.6v1.6h-1.6zM339.70 517.12h1.6v1.6h-1.6zM343.20 510.12h1.6v1.6h-1.6zM343.20 517.12h1.6v1.6h-1.6zM346.70 510.12h1.6v1.6h-1.6zM346.70 517.12h1.6v1.6h-1.6zM350.20 510.12h1.6v1.6h-1.6zM350.20 517.12h1.6v1.6h-1.6zM353.70 510.12h1.6v1.6h-1.6zM353.70 517.12h1.6v1.6h-1.6zM357.20 510.12h1.6v1.6h-1.6zM357.20 517.12h1.6v1.6h-1.6zM360.70 510.12h1.6v1.6h-1.6zM360.70 517.12h1.6v1.6h-1.6zM364.20 510.12h1.6v1.6h-1.6zM364.20 517.12h1.6v1.6h-1.6zM367.70 510.12h1.6v1.6h-1.6zM367.70 517.12h1.6v1.6h-1.6zM371.20 510.12h1.6v1.6h-1.6zM371.20 517.12h1.6v1.6h-1.6zM374.70 510.12h1.6v1.6h-1.6zM374.70 517.12h1.6v1.6h-1.6zM378.20 510.12h1.6v1.6h-1.6zM378.20 517.12h1.6v1.6h-1.6zM381.70 510.12h1.6v1.6h-1.6zM381.70 517.12h1.6v1.6h-1.6zM394.20 510.12h1.6v1.6h-1.6zM394.20 517.12h1.6v1.6h-1.6zM397.70 510.12h1.6v1.6h-1.6zM397.70 517.12h1.6v1.6h-1.6zM401.20 510.12h1.6v1.6h-1.6zM401.20 517.12h1.6v1.6h-1.6zM404.70 510.12h1.6v1.6h-1.6zM404.70 517.12h1.6v1.6h-1.6zM408.20 510.12h1.6v1.6h-1.6zM408.20 517.12h1.6v1.6h-1.6zM411.70 510.12h1.6v1.6h-1.6zM411.70 517.12h1.6v1.6h-1.6zM415.20 510.12h1.6v1.6h-1.6zM415.20 517.12h1.6v1.6h-1.6zM418.70 510.12h1.6v1.6h-1.6zM418.70 517.12h1.6v1.6h-1.6zM422.20 510.12h1.6v1.6h-1.6zM422.20 517.12h1.6v1.6h-1.6zM425.70 510.12h1.6v1.6h-1.6zM425.70 517.12h1.6v1.6h-1.6zM429.20 510.12h1.6v1.6h-1.6zM429.20 517.12h1.6v1.6h-1.6zM432.70 510.12h1.6v1.6h-1.6zM432.70 517.12h1.6v1.6h-1.6zM436.20 510.12h1.6v1.6h-1.6zM436.20 517.12h1.6v1.6h-1.6zM439.70 510.12h1.6v1.6h-1.6zM439.70 517.12h1.6v1.6h-1.6zM443.20 510.12h1.6v1.6h-1.6zM443.20 517.12h1.6v1.6h-1.6zM446.70 510.12h1.6v1.6h-1.6zM446.70 517.12h1.6v1.6h-1.6zM450.20 510.12h1.6v1.6h-1.6zM450.20 517.12h1.6v1.6h-1.6zM453.70 510.12h1.6v1.6h-1.6zM453.70 517.12h1.6v1.6h-1.6zM457.20 510.12h1.6v1.6h-1.6zM457.20 517.12h1.6v1.6h-1.6zM460.70 510.12h1.6v1.6h-1.6zM460.70 517.12h1.6v1.6h-1.6zM464.20 510.12h1.6v1.6h-1.6zM464.20 517.12h1.6v1.6h-1.6zM467.70 510.12h1.6v1.6h-1.6zM467.70 517.12h1.6v1.6h-1.6zM471.20 510.12h1.6v1.6h-1.6zM471.20 517.12h1.6v1.6h-1.6zM474.70 510.12h1.6v1.6h-1.6zM474.70 517.12h1.6v1.6h-1.6zM478.20 510.12h1.6v1.6h-1.6zM478.20 517.12h1.6v1.6h-1.6zM481.70 510.12h1.6v1.6h-1.6zM481.70 517.12h1.6v1.6h-1.6zM485.20 510.12h1.6v1.6h-1.6zM485.20 517.12h1.6v1.6h-1.6zM506.20 510.12h1.6v1.6h-1.6zM506.20 517.12h1.6v1.6h-1.6zM515.50 510.12h1.6v1.6h-1.6zM515.50 517.12h1.6v1.6h-1.6zM524.80 510.12h1.6v1.6h-1.6zM524.80 517.12h1.6v1.6h-1.6zM534.10 510.12h1.6v1.6h-1.6zM534.10 517.12h1.6v1.6h-1.6zM543.40 510.12h1.6v1.6h-1.6zM543.40 517.12h1.6v1.6h-1.6zM552.70 510.12h1.6v1.6h-1.6zM552.70 517.12h1.6v1.6h-1.6zM313.20 530.95h1.6v1.6h-1.6zM313.20 537.95h1.6v1.6h-1.6zM316.70 530.95h1.6v1.6h-1.6zM316.70 537.95h1.6v1.6h-1.6zM320.20 530.95h1.6v1.6h-1.6zM320.20 537.95h1.6v1.6h-1.6zM323.70 530.95h1.6v1.6h-1.6zM323.70 537.95h1.6v1.6h-1.6zM327.20 530.95h1.6v1.6h-1.6zM327.20 537.95h1.6v1.6h-1.6zM330.70 530.95h1.6v1.6h-1.6zM330.70 537.95h1.6v1.6h-1.6zM334.20 530.95h1.6v1.6h-1.6zM334.20 537.95h1.6v1.6h-1.6zM337.70 530.95h1.6v1.6h-1.6zM337.70 537.95h1.6v1.6h-1.6zM341.20 530.95h1.6v1.6h-1.6zM341.20 537.95h1.6v1.6h-1.6zM344.70 530.95h1.6v1.6h-1.6zM344.70 537.95h1.6v1.6h-1.6zM348.20 530.95h1.6v1.6h-1.6zM348.20 537.95h1.6v1.6h-1.6zM351.70 530.95h1.6v1.6h-1.6zM351.70 537.95h1.6v1.6h-1.6zM355.20 530.95h1.6v1.6h-1.6zM355.20 537.95h1.6v1.6h-1.6zM358.70 530.95h1.6v1.6h-1.6zM358.70 537.95h1.6v1.6h-1.6zM362.20 530.95h1.6v1.6h-1.6zM362.20 537.95h1.6v1.6h-1.6zM365.70 530.95h1.6v1.6h-1.6zM365.70 537.95h1.6v1.6h-1.6zM369.20 530.95h1.6v1.6h-1.6zM369.20 537.95h1.6v1.6h-1.6zM372.70 530.95h1.6v1.6h-1.6zM372.70 537.95h1.6v1.6h-1.6zM376.20 530.95h1.6v1.6h-1.6zM376.20 537.95h1.6v1.6h-1.6zM379.70 530.95h1.6v1.6h-1.6zM379.70 537.95h1.6v1.6h-1.6zM383.20 530.95h1.6v1.6h-1.6zM383.20 537.95h1.6v1.6h-1.6zM386.70 530.95h1.6v1.6h-1.6zM386.70 537.95h1.6v1.6h-1.6zM400.70 530.95h1.6v1.6h-1.6zM400.70 537.95h1.6v1.6h-1.6zM404.20 530.95h1.6v1.6h-1.6zM404.20 537.95h1.6v1.6h-1.6zM407.70 530.95h1.6v1.6h-1.6zM407.70 537.95h1.6v1.6h-1.6zM411.20 530.95h1.6v1.6h-1.6zM411.20 537.95h1.6v1.6h-1.6zM414.70 530.95h1.6v1.6h-1.6zM414.70 537.95h1.6v1.6h-1.6zM418.20 530.95h1.6v1.6h-1.6zM418.20 537.95h1.6v1.6h-1.6zM421.70 530.95h1.6v1.6h-1.6zM421.70 537.95h1.6v1.6h-1.6zM425.20 530.95h1.6v1.6h-1.6zM425.20 537.95h1.6v1.6h-1.6zM428.70 530.95h1.6v1.6h-1.6zM428.70 537.95h1.6v1.6h-1.6zM432.20 530.95h1.6v1.6h-1.6zM432.20 537.95h1.6v1.6h-1.6zM435.70 530.95h1.6v1.6h-1.6zM435.70 537.95h1.6v1.6h-1.6zM439.20 530.95h1.6v1.6h-1.6zM439.20 537.95h1.6v1.6h-1.6zM442.70 530.95h1.6v1.6h-1.6zM442.70 537.95h1.6v1.6h-1.6zM446.20 530.95h1.6v1.6h-1.6zM446.20 537.95h1.6v1.6h-1.6zM449.70 530.95h1.6v1.6h-1.6zM449.70 537.95h1.6v1.6h-1.6zM453.20 530.95h1.6v1.6h-1.6zM453.20 537.95h1.6v1.6h-1.6zM456.70 530.95h1.6v1.6h-1.6zM456.70 537.95h1.6v1.6h-1.6zM460.20 530.95h1.6v1.6h-1.6zM460.20 537.95h1.6v1.6h-1.6zM463.70 530.95h1.6v1.6h-1.6zM463.70 537.95h1.6v1.6h-1.6zM467.20 530.95h1.6v1.6h-1.6zM467.20 537.95h1.6v1.6h-1.6zM470.70 530.95h1.6v1.6h-1.6zM470.70 537.95h1.6v1.6h-1.6zM474.20 530.95h1.6v1.6h-1.6zM474.20 537.95h1.6v1.6h-1.6zM477.70 530.95h1.6v1.6h-1.6zM477.70 537.95h1.6v1.6h-1.6zM497.70 530.95h1.6v1.6h-1.6zM497.70 537.95h1.6v1.6h-1.6zM507.00 530.95h1.6v1.6h-1.6zM507.00 537.95h1.6v1.6h-1.6zM516.30 530.95h1.6v1.6h-1.6zM516.30 537.95h1.6v1.6h-1.6zM525.60 530.95h1.6v1.6h-1.6zM525.60 537.95h1.6v1.6h-1.6zM534.90 530.95h1.6v1.6h-1.6zM534.90 537.95h1.6v1.6h-1.6zM544.20 530.95h1.6v1.6h-1.6zM544.20 537.95h1.6v1.6h-1.6zM553.50 530.95h1.6v1.6h-1.6zM553.50 537.95h1.6v1.6h-1.6zM562.80 530.95h1.6v1.6h-1.6zM562.80 537.95h1.6v1.6h-1.6zM278.70 551.78h1.6v1.6h-1.6zM278.70 558.78h1.6v1.6h-1.6zM288.00 551.78h1.6v1.6h-1.6zM288.00 558.78h1.6v1.6h-1.6zM297.30 551.78h1.6v1.6h-1.6zM297.30 558.78h1.6v1.6h-1.6zM306.60 551.78h1.6v1.6h-1.6zM306.60 558.78h1.6v1.6h-1.6zM333.70 551.78h1.6v1.6h-1.6zM333.70 558.78h1.6v1.6h-1.6zM337.20 551.78h1.6v1.6h-1.6zM337.20 558.78h1.6v1.6h-1.6zM340.70 551.78h1.6v1.6h-1.6zM340.70 558.78h1.6v1.6h-1.6zM344.20 551.78h1.6v1.6h-1.6zM344.20 558.78h1.6v1.6h-1.6zM347.70 551.78h1.6v1.6h-1.6zM347.70 558.78h1.6v1.6h-1.6zM351.20 551.78h1.6v1.6h-1.6zM351.20 558.78h1.6v1.6h-1.6zM354.70 551.78h1.6v1.6h-1.6zM354.70 558.78h1.6v1.6h-1.6zM358.20 551.78h1.6v1.6h-1.6zM358.20 558.78h1.6v1.6h-1.6zM361.70 551.78h1.6v1.6h-1.6zM361.70 558.78h1.6v1.6h-1.6zM365.20 551.78h1.6v1.6h-1.6zM365.20 558.78h1.6v1.6h-1.6zM368.70 551.78h1.6v1.6h-1.6zM368.70 558.78h1.6v1.6h-1.6zM372.20 551.78h1.6v1.6h-1.6zM372.20 558.78h1.6v1.6h-1.6zM375.70 551.78h1.6v1.6h-1.6zM375.70 558.78h1.6v1.6h-1.6zM379.20 551.78h1.6v1.6h-1.6zM379.20 558.78h1.6v1.6h-1.6zM382.70 551.78h1.6v1.6h-1.6zM382.70 558.78h1.6v1.6h-1.6zM386.20 551.78h1.6v1.6h-1.6zM386.20 558.78h1.6v1.6h-1.6zM389.70 551.78h1.6v1.6h-1.6zM389.70 558.78h1.6v1.6h-1.6zM393.20 551.78h1.6v1.6h-1.6zM393.20 558.78h1.6v1.6h-1.6zM407.20 551.78h1.6v1.6h-1.6zM407.20 558.78h1.6v1.6h-1.6zM410.70 551.78h1.6v1.6h-1.6zM410.70 558.78h1.6v1.6h-1.6zM414.20 551.78h1.6v1.6h-1.6zM414.20 558.78h1.6v1.6h-1.6zM417.70 551.78h1.6v1.6h-1.6zM417.70 558.78h1.6v1.6h-1.6zM421.20 551.78h1.6v1.6h-1.6zM421.20 558.78h1.6v1.6h-1.6zM424.70 551.78h1.6v1.6h-1.6zM424.70 558.78h1.6v1.6h-1.6zM428.20 551.78h1.6v1.6h-1.6zM428.20 558.78h1.6v1.6h-1.6zM431.70 551.78h1.6v1.6h-1.6zM431.70 558.78h1.6v1.6h-1.6zM435.20 551.78h1.6v1.6h-1.6zM435.20 558.78h1.6v1.6h-1.6zM438.70 551.78h1.6v1.6h-1.6zM438.70 558.78h1.6v1.6h-1.6zM442.20 551.78h1.6v1.6h-1.6zM442.20 558.78h1.6v1.6h-1.6zM445.70 551.78h1.6v1.6h-1.6zM445.70 558.78h1.6v1.6h-1.6zM449.20 551.78h1.6v1.6h-1.6zM449.20 558.78h1.6v1.6h-1.6zM452.70 551.78h1.6v1.6h-1.6zM452.70 558.78h1.6v1.6h-1.6zM456.20 551.78h1.6v1.6h-1.6zM456.20 558.78h1.6v1.6h-1.6zM459.70 551.78h1.6v1.6h-1.6zM459.70 558.78h1.6v1.6h-1.6zM463.20 551.78h1.6v1.6h-1.6zM463.20 558.78h1.6v1.6h-1.6zM466.70 551.78h1.6v1.6h-1.6zM466.70 558.78h1.6v1.6h-1.6zM470.20 551.78h1.6v1.6h-1.6zM470.20 558.78h1.6v1.6h-1.6zM481.20 551.78h1.6v1.6h-1.6zM481.20 558.78h1.6v1.6h-1.6zM490.50 551.78h1.6v1.6h-1.6zM490.50 558.78h1.6v1.6h-1.6zM499.80 551.78h1.6v1.6h-1.6zM499.80 558.78h1.6v1.6h-1.6zM509.10 551.78h1.6v1.6h-1.6zM509.10 558.78h1.6v1.6h-1.6zM518.40 551.78h1.6v1.6h-1.6zM518.40 558.78h1.6v1.6h-1.6zM527.70 551.78h1.6v1.6h-1.6zM527.70 558.78h1.6v1.6h-1.6zM537.00 551.78h1.6v1.6h-1.6zM537.00 558.78h1.6v1.6h-1.6zM546.30 551.78h1.6v1.6h-1.6zM546.30 558.78h1.6v1.6h-1.6zM555.60 551.78h1.6v1.6h-1.6zM555.60 558.78h1.6v1.6h-1.6zM564.90 551.78h1.6v1.6h-1.6zM564.90 558.78h1.6v1.6h-1.6zM574.20 551.78h1.6v1.6h-1.6zM574.20 558.78h1.6v1.6h-1.6z" fill="#000" fill-opacity="0.68"/>
<path d="M524.10 2.80h2.8v2.8h-2.8zM528.30 2.80h2.8v2.8h-2.8zM279.40 47.40h2.8v2.8h-2.8zM491.00 47.90h2.8v2.8h-2.8zM356.60 68.00h2.8v2.8h-2.8zM411.20 68.00h2.8v2.8h-2.8zM322.00 107.10h2.8v2.8h-2.8zM326.40 107.10h2.8v2.8h-2.8zM440.40 107.40h2.8v2.8h-2.8zM444.60 107.40h2.8v2.8h-2.8zM546.80 164.40h2.8v2.8h-2.8zM333.20 357.40h2.8v2.8h-2.8zM338.60 357.40h2.8v2.8h-2.8zM387.30 484.70h2.8v2.8h-2.8z" fill="#000" fill-opacity="0.14"/>
<path d="M524.60 3.30h1.8v1.8h-1.8zM528.80 3.30h1.8v1.8h-1.8zM279.90 47.90h1.8v1.8h-1.8zM491.50 48.40h1.8v1.8h-1.8zM357.10 68.50h1.8v1.8h-1.8zM411.70 68.50h1.8v1.8h-1.8zM322.50 107.60h1.8v1.8h-1.8zM326.90 107.60h1.8v1.8h-1.8zM440.90 107.90h1.8v1.8h-1.8zM445.10 107.90h1.8v1.8h-1.8zM547.30 164.90h1.8v1.8h-1.8zM333.70 357.90h1.8v1.8h-1.8zM339.10 357.90h1.8v1.8h-1.8zM387.80 485.20h1.8v1.8h-1.8z" fill="#111"/>
<circle cx="389.4" cy="504.5" r="1.70" fill="#000" fill-opacity="0.16"/>
<circle cx="389.4" cy="504.5" r="1.15" fill="#111"/>
<circle cx="395.1" cy="525.1" r="1.70" fill="#000" fill-opacity="0.16"/>
<circle cx="395.1" cy="525.1" r="1.15" fill="#111"/>
<circle cx="402.0" cy="546.2" r="1.70" fill="#000" fill-opacity="0.16"/>
<circle cx="402.0" cy="546.2" r="1.15" fill="#111"/>
<circle cx="303.7" cy="400.8" r="1.70" fill="#000" fill-opacity="0.16"/>
<circle cx="303.7" cy="400.8" r="1.15" fill="#111"/>
<circle cx="242.7" cy="276.2" r="1.70" fill="#000" fill-opacity="0.16"/>
<circle cx="242.7" cy="276.2" r="1.15" fill="#111"/>
<circle cx="394.8" cy="517.6" r="1.35" fill="#000" fill-opacity="0.16"/>
<circle cx="394.8" cy="517.6" r="0.80" fill="#111"/>
<circle cx="400.1" cy="538.7" r="1.35" fill="#000" fill-opacity="0.16"/>
<circle cx="400.1" cy="538.7" r="0.80" fill="#111"/>
<circle cx="407.4" cy="559.6" r="1.35" fill="#000" fill-opacity="0.16"/>
<circle cx="407.4" cy="559.6" r="0.80" fill="#111"/>
<circle cx="309.3" cy="413.2" r="1.35" fill="#000" fill-opacity="0.16"/>
<circle cx="309.3" cy="413.2" r="0.80" fill="#111"/>
</svg>
</body></html>
